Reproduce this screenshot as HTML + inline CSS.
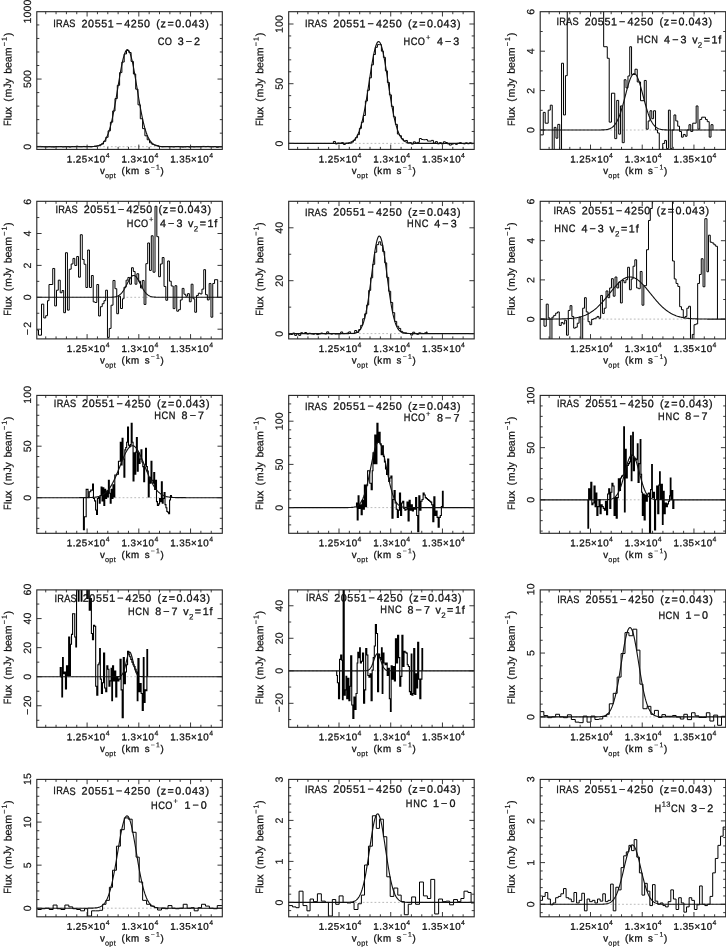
<!DOCTYPE html>
<html><head><meta charset="utf-8"><title>IRAS 20551-4250 spectra</title>
<style>
html,body{margin:0;padding:0;background:#fff}
body{width:726px;height:947px;overflow:hidden}
svg{display:block}
text{font-family:"Liberation Sans",sans-serif;fill:#111;white-space:pre;stroke:#111;stroke-width:0.3px}
g.r text{stroke-width:0.2px}
</style></head><body>
<svg width="726" height="947" viewBox="0 0 726 947">
<rect width="726" height="947" fill="#fff"/>
<g><clipPath id="c1"><rect x="36.8" y="11.7" width="185.5" height="137.7"/></clipPath>
<line x1="36.8" y1="146.7" x2="222.3" y2="146.7" stroke="#aaa" stroke-width="0.8" stroke-dasharray="1.8 2.1"/>
<path d="M36.8 146.44H39.1V146.41H41.4V146.69H43.7V146.86H46V146.92H48.3V146.69H50.6V146.91H52.9V146.99H55.2V146.66H57.5V146.67H59.8V146.59H62.1V146.89H64.4V146.7H66.7V146.71H69V147.01H71.3V146.59H73.6V146.63H75.9V146.22H78.2V146.66H80.5V146.73H82.8V146.45H85.1V146.65H87.4V146.49H89.7V146.72H92V146.52H94.3V146.18H96.6V145.87H98.9V145.24H101.2V144.09H103.5V141.31H105.8V137.27H108.1V130.84H110.4V122.17H112.7V110.94H115V98.55H117.3V85.31H119.6V72.6H121.9V62.05H124.2V53.95H126.5V50.5H128.8V52.52H131.1V61.4H133.4V74.03H135.7V89.18H138V104.84H140.3V118.76H142.6V128.63H144.9V135.8H147.2V139.78H149.5V142.77H151.8V144.26H154.1V145.01H156.4V145.66H158.7V146.6H161V146.81H163.3V146.64H165.6V146.53H167.9V146.66H170.2V146.64H172.5V146.9H174.8V146.58H177.1V146.47H179.4V146.79H181.7V146.99H184V146.85H186.3V146.55H188.6V147.05H190.9V146.72H193.2V146.9H195.5V146.73H197.8V146.75H200.1V146.7H202.4V146.4H204.7V146.61H207V146.43H209.3V146.73H211.6V146.8H213.9V146.62H216.2V147.28H218.5V146.71H220.8V146.67H222.3" fill="none" stroke="#000" stroke-width="1.0" stroke-linejoin="miter" clip-path="url(#c1)"/>
<path d="M36.8 146.7L37.55 146.7L38.3 146.7L39.05 146.7L39.8 146.7L40.55 146.7L41.3 146.7L42.05 146.7L42.8 146.7L43.55 146.7L44.3 146.7L45.05 146.7L45.8 146.7L46.55 146.7L47.3 146.7L48.05 146.7L48.8 146.7L49.55 146.7L50.3 146.7L51.05 146.7L51.8 146.7L52.55 146.7L53.3 146.7L54.05 146.7L54.8 146.7L55.55 146.7L56.3 146.7L57.05 146.7L57.8 146.7L58.55 146.7L59.3 146.7L60.05 146.7L60.8 146.7L61.55 146.7L62.3 146.7L63.05 146.7L63.8 146.7L64.55 146.7L65.3 146.7L66.05 146.7L66.8 146.7L67.55 146.7L68.3 146.7L69.05 146.7L69.8 146.7L70.55 146.7L71.3 146.7L72.05 146.7L72.8 146.7L73.55 146.7L74.3 146.7L75.05 146.7L75.8 146.7L76.55 146.7L77.3 146.7L78.05 146.7L78.8 146.7L79.55 146.7L80.3 146.7L81.05 146.7L81.8 146.7L82.55 146.7L83.3 146.7L84.05 146.7L84.8 146.69L85.55 146.69L86.3 146.69L87.05 146.69L87.8 146.68L88.55 146.67L89.3 146.66L90.05 146.65L90.8 146.63L91.55 146.61L92.3 146.58L93.05 146.54L93.8 146.49L94.55 146.42L95.3 146.34L96.05 146.23L96.8 146.1L97.55 145.93L98.3 145.72L99.05 145.46L99.8 145.14L100.55 144.76L101.3 144.29L102.05 143.73L102.8 143.06L103.55 142.27L104.3 141.34L105.05 140.25L105.8 138.98L106.55 137.53L107.3 135.86L108.05 133.98L108.8 131.85L109.55 129.48L110.3 126.85L111.05 123.95L111.8 120.79L112.55 117.38L113.3 113.71L114.05 109.81L114.8 105.7L115.55 101.42L116.3 96.98L117.05 92.45L117.8 87.86L118.55 83.27L119.3 78.74L120.05 74.33L120.8 70.11L121.55 66.13L122.3 62.46L123.05 59.15L123.8 56.28L124.55 53.87L125.3 51.98L126.05 50.64L126.8 49.88L127.55 49.7L128.3 50.12L129.05 51.11L129.8 52.67L130.55 54.77L131.3 57.37L132.05 60.43L132.8 63.88L133.55 67.69L134.3 71.77L135.05 76.08L135.8 80.54L136.55 85.1L137.3 89.7L138.05 94.27L138.8 98.77L139.55 103.15L140.3 107.37L141.05 111.4L141.8 115.21L142.55 118.77L143.3 122.09L144.05 125.14L144.8 127.93L145.55 130.46L146.3 132.73L147.05 134.76L147.8 136.55L148.55 138.13L149.3 139.51L150.05 140.7L150.8 141.73L151.55 142.6L152.3 143.34L153.05 143.97L153.8 144.49L154.55 144.92L155.3 145.28L156.05 145.57L156.8 145.81L157.55 146L158.3 146.15L159.05 146.28L159.8 146.37L160.55 146.45L161.3 146.51L162.05 146.56L162.8 146.59L163.55 146.62L164.3 146.64L165.05 146.66L165.8 146.67L166.55 146.68L167.3 146.68L168.05 146.69L168.8 146.69L169.55 146.69L170.3 146.7L171.05 146.7L171.8 146.7L172.55 146.7L173.3 146.7L174.05 146.7L174.8 146.7L175.55 146.7L176.3 146.7L177.05 146.7L177.8 146.7L178.55 146.7L179.3 146.7L180.05 146.7L180.8 146.7L181.55 146.7L182.3 146.7L183.05 146.7L183.8 146.7L184.55 146.7L185.3 146.7L186.05 146.7L186.8 146.7L187.55 146.7L188.3 146.7L189.05 146.7L189.8 146.7L190.55 146.7L191.3 146.7L192.05 146.7L192.8 146.7L193.55 146.7L194.3 146.7L195.05 146.7L195.8 146.7L196.55 146.7L197.3 146.7L198.05 146.7L198.8 146.7L199.55 146.7L200.3 146.7L201.05 146.7L201.8 146.7L202.55 146.7L203.3 146.7L204.05 146.7L204.8 146.7L205.55 146.7L206.3 146.7L207.05 146.7L207.8 146.7L208.55 146.7L209.3 146.7L210.05 146.7L210.8 146.7L211.55 146.7L212.3 146.7L213.05 146.7L213.8 146.7L214.55 146.7L215.3 146.7L216.05 146.7L216.8 146.7L217.55 146.7L218.3 146.7L219.05 146.7L219.8 146.7L220.55 146.7L221.3 146.7L222.05 146.7" fill="none" stroke="#111" stroke-width="1.12" clip-path="url(#c1)"/>
<rect x="36.8" y="11.7" width="185.5" height="137.7" fill="none" stroke="#222" stroke-width="1.1"/>
<path d="M45.72 149.4v-2.5M45.72 11.7v2.5M56.06 149.4v-2.5M56.06 11.7v2.5M66.41 149.4v-2.5M66.41 11.7v2.5M76.75 149.4v-2.5M76.75 11.7v2.5M87.1 149.4v-4.8M87.1 11.7v4.8M97.44 149.4v-2.5M97.44 11.7v2.5M107.79 149.4v-2.5M107.79 11.7v2.5M118.13 149.4v-2.5M118.13 11.7v2.5M128.48 149.4v-2.5M128.48 11.7v2.5M138.82 149.4v-4.8M138.82 11.7v4.8M149.17 149.4v-2.5M149.17 11.7v2.5M159.51 149.4v-2.5M159.51 11.7v2.5M169.86 149.4v-2.5M169.86 11.7v2.5M180.2 149.4v-2.5M180.2 11.7v2.5M190.55 149.4v-4.8M190.55 11.7v4.8M200.89 149.4v-2.5M200.89 11.7v2.5M211.24 149.4v-2.5M211.24 11.7v2.5M36.8 146.7h4.8M222.3 146.7h-4.8M36.8 133.17h2.5M222.3 133.17h-2.5M36.8 119.64h2.5M222.3 119.64h-2.5M36.8 106.11h2.5M222.3 106.11h-2.5M36.8 92.58h2.5M222.3 92.58h-2.5M36.8 79.05h4.8M222.3 79.05h-4.8M36.8 65.52h2.5M222.3 65.52h-2.5M36.8 51.99h2.5M222.3 51.99h-2.5M36.8 38.46h2.5M222.3 38.46h-2.5M36.8 24.93h2.5M222.3 24.93h-2.5" stroke="#222" stroke-width="0.9" fill="none"/>
<g class="r" transform="rotate(-90 30.9 146.7)"><text transform="rotate(0.03 27.81 146.7)" x="27.88" y="146.7" font-size="10.5">0</text></g>
<g class="r" transform="rotate(-90 30.9 79.05)"><text transform="rotate(0.03 21.83 79.05)" x="21.9 27.88 33.86" y="79.05" font-size="10.5">500</text></g>
<g class="r" transform="rotate(-90 30.9 11.4)"><text transform="rotate(0.03 18.84 11.4)" x="18.91 24.89 30.87 36.85" y="11.4" font-size="10.5">1000</text></g>
<text transform="rotate(0.03 66.49 162.4)" x="66.76 72.63 75.79 81.76 87.67 93.84 99.82" y="162.4" font-size="9.78">1.25×10</text><text transform="rotate(0.03 66.49 162.4)" x="105.72" y="157.66" font-size="6.85" style="stroke-width:0.18px">4</text>
<text transform="rotate(0.03 121.2 162.4)" x="121.47 127.35 130.5 136.4 142.58 148.56" y="162.4" font-size="9.78">1.3×10</text><text transform="rotate(0.03 121.2 162.4)" x="154.45" y="157.66" font-size="6.85" style="stroke-width:0.18px">4</text>
<text transform="rotate(0.03 169.94 162.4)" x="170.21 176.08 179.24 185.21 191.12 197.29 203.27" y="162.4" font-size="9.78">1.35×10</text><text transform="rotate(0.03 169.94 162.4)" x="209.17" y="157.66" font-size="6.85" style="stroke-width:0.18px">4</text>
<text transform="rotate(0.03 99.97 174.1)" x="99.97" y="174.1" font-size="9.78">v</text><text transform="rotate(0.03 99.97 174.1)" x="104.99 109.28 113.78" y="178.07" font-size="7.24" style="stroke-width:0.18px">opt</text><text transform="rotate(0.03 99.97 174.1)" x="117.22 121.53 125.43 130.98 140.71 144.65" y="174.1" font-size="9.78"> (km s</text><text transform="rotate(0.03 99.97 174.1)" x="150.79 156.07" y="169.36" font-size="6.85" style="stroke-width:0.18px">−1</text><text transform="rotate(0.03 99.97 174.1)" x="160.57" y="174.1" font-size="9.78">)</text>
<g class="r" transform="rotate(-90 11.4 79.25)"><text transform="rotate(0.03 -35.42 79.25) scale(0.86 1)" x="-41.2" y="79.25" font-size="10.6">F</text><text transform="rotate(0.03 -35.42 79.25)" x="-29.82 -27.43 -21.59 -15.33 -11 -6.88" y="79.25" font-size="10.6">lux (m</text><text transform="rotate(0.03 -35.42 79.25) scale(0.86 1)" x="2.72" y="79.25" font-size="10.6">J</text><text transform="rotate(0.03 -35.42 79.25)" x="6.9 13 16.92 22.62 28.31 34.39" y="79.25" font-size="10.6">y beam</text><text transform="rotate(0.03 -35.42 79.25)" x="44.39 49.73" y="74.46" font-size="7.42" style="stroke-width:0.18px">−1</text><text transform="rotate(0.03 -35.42 79.25)" x="54.3" y="79.25" font-size="10.6">)</text></g>
<text transform="rotate(0.03 53.15 27.3) scale(0.86 1)" x="61.88 65.18 73.12 80.56" y="27.3" font-size="10.72">IRAS</text><text transform="rotate(0.03 53.15 27.3)" x="76.94 81.44 88.05 94.66 101.26 107.87 115.9 124.24 130.85 137.45 144.06 151.55 156.31 160.64 167.43 175.27 181.74 185.24 191.85 198.45 205.31" y="27.3" font-size="10.72"> 20551−4250 (z=0.043)</text>
<text transform="rotate(0.03 157.5 45.1) scale(0.86 1)" x="183.38 191.51" y="45.1" font-size="10.72">CO</text><text transform="rotate(0.03 157.5 45.1)" x="173.2 177.7 185.74 194.08" y="45.1" font-size="10.72"> 3−2</text></g>
<g><clipPath id="c2"><rect x="288.7" y="11.7" width="185.5" height="137.7"/></clipPath>
<line x1="288.7" y1="143.4" x2="474.2" y2="143.4" stroke="#aaa" stroke-width="0.8" stroke-dasharray="1.8 2.1"/>
<path d="M333.4 143.4V141.44H335.4V143.95H337.4V143.06H339.4V143.25H341.4V142.64H343.4V144.44H345.4V143.47H347.4V143.47H349.4V143.23H351.4V142.13H353.4V140.34H355.4V137.75H357.4V134.66H359.4V128.38H361.4V122.2H363.4V115.47H365.4V101.03H367.4V90.23H369.4V77.84H371.4V64.85H373.4V54.54H375.4V47.32H377.4V44.61H379.4V44.62H381.4V51.17H383.4V57.37H385.4V70.85H387.4V82.47H389.4V94.86H391.4V106.35H393.4V116.81H395.4V124.36H397.4V134.04H399.4V135.69H401.4V138.79H403.4V140.98H405.4V140.48H407.4V143.16H409.4V142.58H411.4V144.1H413.4V141.85H415.4V142.97H417.4V142.38H419.4V138.53H421.4V139.46H423.4V139.77H425.4V139.55H427.4V141.07H429.4V141.11H431.4V140.38H433.4V143.1H435.4V141.64H437.4V143.83H439.4V142.65H441.4V143.98H443.4V141.75H445.4V142.5H447.4V143.87H449.4V145.08H451.4V144.16H453.4V143.55H455.4V144.35H457.4V143.27H459.4V142.67H461.4V143.56H463.4V143.88H465.4V142.85H467.4V143.76H469.4V142.79H471.4V143.78H472.5V143.4" fill="none" stroke="#000" stroke-width="1.0" stroke-linejoin="miter" clip-path="url(#c2)"/>
<path d="M288.7 143.4L289.45 143.4L290.2 143.4L290.95 143.4L291.7 143.4L292.45 143.4L293.2 143.4L293.95 143.4L294.7 143.4L295.45 143.4L296.2 143.4L296.95 143.4L297.7 143.4L298.45 143.4L299.2 143.4L299.95 143.4L300.7 143.4L301.45 143.4L302.2 143.4L302.95 143.4L303.7 143.4L304.45 143.4L305.2 143.4L305.95 143.4L306.7 143.4L307.45 143.4L308.2 143.4L308.95 143.4L309.7 143.4L310.45 143.4L311.2 143.4L311.95 143.4L312.7 143.4L313.45 143.4L314.2 143.4L314.95 143.4L315.7 143.4L316.45 143.4L317.2 143.4L317.95 143.4L318.7 143.4L319.45 143.4L320.2 143.4L320.95 143.4L321.7 143.4L322.45 143.4L323.2 143.4L323.95 143.4L324.7 143.4L325.45 143.4L326.2 143.4L326.95 143.4L327.7 143.4L328.45 143.4L329.2 143.4L329.95 143.4L330.7 143.4L331.45 143.4L332.2 143.4L332.95 143.4L333.7 143.4L334.45 143.4L335.2 143.4L335.95 143.4L336.7 143.4L337.45 143.39L338.2 143.39L338.95 143.39L339.7 143.38L340.45 143.37L341.2 143.36L341.95 143.35L342.7 143.33L343.45 143.31L344.2 143.27L344.95 143.23L345.7 143.18L346.45 143.11L347.2 143.02L347.95 142.9L348.7 142.75L349.45 142.57L350.2 142.34L350.95 142.05L351.7 141.7L352.45 141.27L353.2 140.75L353.95 140.13L354.7 139.38L355.45 138.49L356.2 137.45L356.95 136.22L357.7 134.8L358.45 133.16L359.2 131.29L359.95 129.17L360.7 126.78L361.45 124.12L362.2 121.17L362.95 117.93L363.7 114.4L364.45 110.6L365.2 106.53L365.95 102.22L366.7 97.7L367.45 93L368.2 88.17L368.95 83.27L369.7 78.34L370.45 73.46L371.2 68.69L371.95 64.1L372.7 59.76L373.45 55.75L374.2 52.12L374.95 48.95L375.7 46.29L376.45 44.18L377.2 42.68L377.95 41.8L378.7 41.56L379.45 41.97L380.2 43.02L380.95 44.69L381.7 46.94L382.45 49.75L383.2 53.05L383.95 56.78L384.7 60.89L385.45 65.3L386.2 69.95L386.95 74.76L387.7 79.66L388.45 84.58L389.2 89.47L389.95 94.27L390.7 98.92L391.45 103.39L392.2 107.64L392.95 111.64L393.7 115.37L394.45 118.82L395.2 121.98L395.95 124.86L396.7 127.45L397.45 129.76L398.2 131.82L398.95 133.62L399.7 135.2L400.45 136.57L401.2 137.74L401.95 138.74L402.7 139.59L403.45 140.31L404.2 140.9L404.95 141.4L405.7 141.8L406.45 142.14L407.2 142.41L407.95 142.62L408.7 142.8L409.45 142.93L410.2 143.04L410.95 143.13L411.7 143.19L412.45 143.24L413.2 143.28L413.95 143.31L414.7 143.34L415.45 143.35L416.2 143.37L416.95 143.38L417.7 143.38L418.45 143.39L419.2 143.39L419.95 143.39L420.7 143.4L421.45 143.4L422.2 143.4L422.95 143.4L423.7 143.4L424.45 143.4L425.2 143.4L425.95 143.4L426.7 143.4L427.45 143.4L428.2 143.4L428.95 143.4L429.7 143.4L430.45 143.4L431.2 143.4L431.95 143.4L432.7 143.4L433.45 143.4L434.2 143.4L434.95 143.4L435.7 143.4L436.45 143.4L437.2 143.4L437.95 143.4L438.7 143.4L439.45 143.4L440.2 143.4L440.95 143.4L441.7 143.4L442.45 143.4L443.2 143.4L443.95 143.4L444.7 143.4L445.45 143.4L446.2 143.4L446.95 143.4L447.7 143.4L448.45 143.4L449.2 143.4L449.95 143.4L450.7 143.4L451.45 143.4L452.2 143.4L452.95 143.4L453.7 143.4L454.45 143.4L455.2 143.4L455.95 143.4L456.7 143.4L457.45 143.4L458.2 143.4L458.95 143.4L459.7 143.4L460.45 143.4L461.2 143.4L461.95 143.4L462.7 143.4L463.45 143.4L464.2 143.4L464.95 143.4L465.7 143.4L466.45 143.4L467.2 143.4L467.95 143.4L468.7 143.4L469.45 143.4L470.2 143.4L470.95 143.4L471.7 143.4L472.45 143.4L473.2 143.4L473.95 143.4" fill="none" stroke="#111" stroke-width="1.12" clip-path="url(#c2)"/>
<rect x="288.7" y="11.7" width="185.5" height="137.7" fill="none" stroke="#222" stroke-width="1.1"/>
<path d="M297.62 149.4v-2.5M297.62 11.7v2.5M307.96 149.4v-2.5M307.96 11.7v2.5M318.31 149.4v-2.5M318.31 11.7v2.5M328.65 149.4v-2.5M328.65 11.7v2.5M339 149.4v-4.8M339 11.7v4.8M349.35 149.4v-2.5M349.35 11.7v2.5M359.69 149.4v-2.5M359.69 11.7v2.5M370.04 149.4v-2.5M370.04 11.7v2.5M380.38 149.4v-2.5M380.38 11.7v2.5M390.73 149.4v-4.8M390.73 11.7v4.8M401.07 149.4v-2.5M401.07 11.7v2.5M411.42 149.4v-2.5M411.42 11.7v2.5M421.76 149.4v-2.5M421.76 11.7v2.5M432.11 149.4v-2.5M432.11 11.7v2.5M442.45 149.4v-4.8M442.45 11.7v4.8M452.8 149.4v-2.5M452.8 11.7v2.5M463.14 149.4v-2.5M463.14 11.7v2.5M288.7 143.4h4.8M474.2 143.4h-4.8M288.7 131.46h2.5M474.2 131.46h-2.5M288.7 119.52h2.5M474.2 119.52h-2.5M288.7 107.58h2.5M474.2 107.58h-2.5M288.7 95.64h2.5M474.2 95.64h-2.5M288.7 83.7h4.8M474.2 83.7h-4.8M288.7 71.76h2.5M474.2 71.76h-2.5M288.7 59.82h2.5M474.2 59.82h-2.5M288.7 47.88h2.5M474.2 47.88h-2.5M288.7 35.94h2.5M474.2 35.94h-2.5M288.7 24h4.8M474.2 24h-4.8" stroke="#222" stroke-width="0.9" fill="none"/>
<g class="r" transform="rotate(-90 282.8 143.4)"><text transform="rotate(0.03 279.71 143.4)" x="279.78" y="143.4" font-size="10.5">0</text></g>
<g class="r" transform="rotate(-90 282.8 83.7)"><text transform="rotate(0.03 276.72 83.7)" x="276.79 282.77" y="83.7" font-size="10.5">50</text></g>
<g class="r" transform="rotate(-90 282.8 24)"><text transform="rotate(0.03 273.73 24)" x="273.8 279.78 285.76" y="24" font-size="10.5">100</text></g>
<text transform="rotate(0.03 318.39 162.4)" x="318.66 324.53 327.69 333.66 339.57 345.74 351.72" y="162.4" font-size="9.78">1.25×10</text><text transform="rotate(0.03 318.39 162.4)" x="357.62" y="157.66" font-size="6.85" style="stroke-width:0.18px">4</text>
<text transform="rotate(0.03 373.1 162.4)" x="373.37 379.25 382.4 388.3 394.48 400.46" y="162.4" font-size="9.78">1.3×10</text><text transform="rotate(0.03 373.1 162.4)" x="406.35" y="157.66" font-size="6.85" style="stroke-width:0.18px">4</text>
<text transform="rotate(0.03 421.84 162.4)" x="422.11 427.98 431.14 437.11 443.02 449.19 455.17" y="162.4" font-size="9.78">1.35×10</text><text transform="rotate(0.03 421.84 162.4)" x="461.07" y="157.66" font-size="6.85" style="stroke-width:0.18px">4</text>
<text transform="rotate(0.03 351.87 174.1)" x="351.87" y="174.1" font-size="9.78">v</text><text transform="rotate(0.03 351.87 174.1)" x="356.89 361.18 365.68" y="178.07" font-size="7.24" style="stroke-width:0.18px">opt</text><text transform="rotate(0.03 351.87 174.1)" x="369.12 373.43 377.33 382.88 392.61 396.55" y="174.1" font-size="9.78"> (km s</text><text transform="rotate(0.03 351.87 174.1)" x="402.69 407.97" y="169.36" font-size="6.85" style="stroke-width:0.18px">−1</text><text transform="rotate(0.03 351.87 174.1)" x="412.47" y="174.1" font-size="9.78">)</text>
<g class="r" transform="rotate(-90 263.3 79.25)"><text transform="rotate(0.03 216.48 79.25) scale(0.86 1)" x="251.71" y="79.25" font-size="10.6">F</text><text transform="rotate(0.03 216.48 79.25)" x="222.08 224.47 230.31 236.57 240.9 245.02" y="79.25" font-size="10.6">lux (m</text><text transform="rotate(0.03 216.48 79.25) scale(0.86 1)" x="295.63" y="79.25" font-size="10.6">J</text><text transform="rotate(0.03 216.48 79.25)" x="258.8 264.9 268.82 274.52 280.21 286.29" y="79.25" font-size="10.6">y beam</text><text transform="rotate(0.03 216.48 79.25)" x="296.29 301.63" y="74.46" font-size="7.42" style="stroke-width:0.18px">−1</text><text transform="rotate(0.03 216.48 79.25)" x="306.2" y="79.25" font-size="10.6">)</text></g>
<text transform="rotate(0.03 304.85 27.3) scale(0.86 1)" x="354.56 357.86 365.79 373.24" y="27.3" font-size="10.72">IRAS</text><text transform="rotate(0.03 304.85 27.3)" x="328.64 333.14 339.75 346.36 352.96 359.57 367.6 375.94 382.55 389.15 395.76 403.25 408.01 412.34 419.13 426.97 433.44 436.94 443.55 450.15 457.01" y="27.3" font-size="10.72"> 20551−4250 (z=0.043)</text>
<text transform="rotate(0.03 403.2 45.1) scale(0.86 1)" x="469.28 477.7 485.83" y="45.1" font-size="10.72">HCO</text><text transform="rotate(0.03 403.2 45.1)" x="425.98" y="39.86" font-size="7.51" style="stroke-width:0.18px">+</text><text transform="rotate(0.03 403.2 45.1)" x="432.44 436.95 444.99 453.33" y="45.1" font-size="10.72"> 4−3</text></g>
<g><clipPath id="c3"><rect x="540.2" y="11.7" width="185.5" height="137.7"/></clipPath>
<line x1="540.2" y1="130" x2="725.7" y2="130" stroke="#aaa" stroke-width="0.8" stroke-dasharray="1.8 2.1"/>
<path d="M540.25 134.89H543.25V112.4H545.2V123.19H548.19V110.15H550.29V105.2H552.24V152.4H554.19V127.39H555.99V138.19H557.79V124.39H559.74V152.4H561.54V63.22H563.49V114.95H565.44V75.67H567.24V8.7H603.67V46.73H607.27V58.28H609.21V122.14H611.46V93.21H614.76V138.64H616.71V100.4H618.66V134.14H620.46V105.95H622.26V142.68H624.21V79.72H626.01V87.96H627.96V75.97H629.75V46.73H631.55V74.47H635V69.22H637.24V81.96H640.54V100.7H644.29V80.46H646.24V129.19H648.19V120.94H649.99V110.75H651.79V118.7H653.59V110.75H655.54V129.94H657.48V132.94H659.28V152.4H662.73V143.43H664.68V140.43H666.48V148.68H668.43V110.15H670.23V148.68H672.18V129.94H673.98V114.95H675.78V120.94H677.72V126.19H679.52V131.44H681.47V137.14H683.27V134.44H685.22V136.24H687.02V129.94H688.97V124.69H690.77V131.44H692.72V123.19H696.16V105.95H697.96V129.19H699.76V119.45H701.71V117.2H705.46V119.45H707.26V121.69H709.21V137.14H711.01V124.69H712.96V130" fill="none" stroke="#000" stroke-width="1.0" stroke-linejoin="miter" clip-path="url(#c3)"/>
<path d="M540.2 130L540.95 130L541.7 130L542.45 130L543.2 130L543.95 130L544.7 130L545.45 130L546.2 130L546.95 130L547.7 130L548.45 130L549.2 130L549.95 130L550.7 130L551.45 130L552.2 130L552.95 130L553.7 130L554.45 130L555.2 130L555.95 130L556.7 130L557.45 130L558.2 130L558.95 130L559.7 130L560.45 130L561.2 130L561.95 130L562.7 130L563.45 130L564.2 130L564.95 130L565.7 130L566.45 130L567.2 130L567.95 130L568.7 130L569.45 130L570.2 130L570.95 130L571.7 130L572.45 130L573.2 130L573.95 130L574.7 130L575.45 130L576.2 130L576.95 130L577.7 130L578.45 130L579.2 130L579.95 130L580.7 130L581.45 130L582.2 130L582.95 130L583.7 130L584.45 130L585.2 130L585.95 130L586.7 130L587.45 130L588.2 130L588.95 130L589.7 130L590.45 130L591.2 130L591.95 130L592.7 130L593.45 130L594.2 130L594.95 130L595.7 130L596.45 129.99L597.2 129.99L597.95 129.99L598.7 129.98L599.45 129.97L600.2 129.96L600.95 129.95L601.7 129.93L602.45 129.9L603.2 129.87L603.95 129.83L604.7 129.77L605.45 129.69L606.2 129.6L606.95 129.48L607.7 129.33L608.45 129.14L609.2 128.91L609.95 128.62L610.7 128.27L611.45 127.85L612.2 127.35L612.95 126.74L613.7 126.03L614.45 125.2L615.2 124.23L615.95 123.12L616.7 121.85L617.45 120.41L618.2 118.8L618.95 117.02L619.7 115.06L620.45 112.92L621.2 110.61L621.95 108.15L622.7 105.55L623.45 102.83L624.2 100.03L624.95 97.17L625.7 94.29L626.45 91.44L627.2 88.65L627.95 85.97L628.7 83.45L629.45 81.14L630.2 79.07L630.95 77.29L631.7 75.84L632.45 74.74L633.2 74.01L633.95 73.68L634.7 73.75L635.45 74.21L636.2 75.06L636.95 76.28L637.7 77.85L638.45 79.73L639.2 81.88L639.95 84.27L640.7 86.85L641.45 89.57L642.2 92.38L642.95 95.25L643.7 98.13L644.45 100.97L645.2 103.75L645.95 106.43L646.7 108.99L647.45 111.4L648.2 113.65L648.95 115.73L649.7 117.63L650.45 119.36L651.2 120.91L651.95 122.29L652.7 123.5L653.45 124.57L654.2 125.49L654.95 126.28L655.7 126.95L656.45 127.52L657.2 128L657.95 128.4L658.7 128.73L659.45 128.99L660.2 129.21L660.95 129.38L661.7 129.52L662.45 129.63L663.2 129.72L663.95 129.79L664.7 129.84L665.45 129.88L666.2 129.91L666.95 129.94L667.7 129.95L668.45 129.97L669.2 129.98L669.95 129.98L670.7 129.99L671.45 129.99L672.2 129.99L672.95 130L673.7 130L674.45 130L675.2 130L675.95 130L676.7 130L677.45 130L678.2 130L678.95 130L679.7 130L680.45 130L681.2 130L681.95 130L682.7 130L683.45 130L684.2 130L684.95 130L685.7 130L686.45 130L687.2 130L687.95 130L688.7 130L689.45 130L690.2 130L690.95 130L691.7 130L692.45 130L693.2 130L693.95 130L694.7 130L695.45 130L696.2 130L696.95 130L697.7 130L698.45 130L699.2 130L699.95 130L700.7 130L701.45 130L702.2 130L702.95 130L703.7 130L704.45 130L705.2 130L705.95 130L706.7 130L707.45 130L708.2 130L708.95 130L709.7 130L710.45 130L711.2 130L711.95 130L712.7 130L713.45 130L714.2 130L714.95 130L715.7 130L716.45 130L717.2 130L717.95 130L718.7 130L719.45 130L720.2 130L720.95 130L721.7 130L722.45 130L723.2 130L723.95 130L724.7 130L725.45 130" fill="none" stroke="#111" stroke-width="1.12" clip-path="url(#c3)"/>
<rect x="540.2" y="11.7" width="185.5" height="137.7" fill="none" stroke="#222" stroke-width="1.1"/>
<path d="M549.12 149.4v-2.5M549.12 11.7v2.5M559.47 149.4v-2.5M559.47 11.7v2.5M569.81 149.4v-2.5M569.81 11.7v2.5M580.15 149.4v-2.5M580.15 11.7v2.5M590.5 149.4v-4.8M590.5 11.7v4.8M600.85 149.4v-2.5M600.85 11.7v2.5M611.19 149.4v-2.5M611.19 11.7v2.5M621.53 149.4v-2.5M621.53 11.7v2.5M631.88 149.4v-2.5M631.88 11.7v2.5M642.23 149.4v-4.8M642.23 11.7v4.8M652.57 149.4v-2.5M652.57 11.7v2.5M662.91 149.4v-2.5M662.91 11.7v2.5M673.26 149.4v-2.5M673.26 11.7v2.5M683.61 149.4v-2.5M683.61 11.7v2.5M693.95 149.4v-4.8M693.95 11.7v4.8M704.29 149.4v-2.5M704.29 11.7v2.5M714.64 149.4v-2.5M714.64 11.7v2.5M540.2 130h4.8M725.7 130h-4.8M540.2 110.3h2.5M725.7 110.3h-2.5M540.2 90.6h4.8M725.7 90.6h-4.8M540.2 70.9h2.5M725.7 70.9h-2.5M540.2 51.2h4.8M725.7 51.2h-4.8M540.2 31.5h2.5M725.7 31.5h-2.5" stroke="#222" stroke-width="0.9" fill="none"/>
<g class="r" transform="rotate(-90 534.3 130)"><text transform="rotate(0.03 531.21 130)" x="531.28" y="130" font-size="10.5">0</text></g>
<g class="r" transform="rotate(-90 534.3 90.6)"><text transform="rotate(0.03 531.21 90.6)" x="531.28" y="90.6" font-size="10.5">2</text></g>
<g class="r" transform="rotate(-90 534.3 51.2)"><text transform="rotate(0.03 531.21 51.2)" x="531.28" y="51.2" font-size="10.5">4</text></g>
<g class="r" transform="rotate(-90 534.3 11.8)"><text transform="rotate(0.03 531.21 11.8)" x="531.28" y="11.8" font-size="10.5">6</text></g>
<text transform="rotate(0.03 569.89 162.4)" x="570.16 576.03 579.19 585.16 591.07 597.24 603.22" y="162.4" font-size="9.78">1.25×10</text><text transform="rotate(0.03 569.89 162.4)" x="609.12" y="157.66" font-size="6.85" style="stroke-width:0.18px">4</text>
<text transform="rotate(0.03 624.6 162.4)" x="624.87 630.75 633.9 639.8 645.98 651.96" y="162.4" font-size="9.78">1.3×10</text><text transform="rotate(0.03 624.6 162.4)" x="657.85" y="157.66" font-size="6.85" style="stroke-width:0.18px">4</text>
<text transform="rotate(0.03 673.34 162.4)" x="673.61 679.48 682.64 688.61 694.52 700.69 706.67" y="162.4" font-size="9.78">1.35×10</text><text transform="rotate(0.03 673.34 162.4)" x="712.57" y="157.66" font-size="6.85" style="stroke-width:0.18px">4</text>
<text transform="rotate(0.03 603.37 174.1)" x="603.37" y="174.1" font-size="9.78">v</text><text transform="rotate(0.03 603.37 174.1)" x="608.39 612.68 617.18" y="178.07" font-size="7.24" style="stroke-width:0.18px">opt</text><text transform="rotate(0.03 603.37 174.1)" x="620.62 624.93 628.83 634.38 644.11 648.05" y="174.1" font-size="9.78"> (km s</text><text transform="rotate(0.03 603.37 174.1)" x="654.19 659.47" y="169.36" font-size="6.85" style="stroke-width:0.18px">−1</text><text transform="rotate(0.03 603.37 174.1)" x="663.97" y="174.1" font-size="9.78">)</text>
<g class="r" transform="rotate(-90 514.8 79.25)"><text transform="rotate(0.03 467.98 79.25) scale(0.86 1)" x="544.15" y="79.25" font-size="10.6">F</text><text transform="rotate(0.03 467.98 79.25)" x="473.58 475.97 481.81 488.07 492.4 496.52" y="79.25" font-size="10.6">lux (m</text><text transform="rotate(0.03 467.98 79.25) scale(0.86 1)" x="588.07" y="79.25" font-size="10.6">J</text><text transform="rotate(0.03 467.98 79.25)" x="510.3 516.4 520.32 526.02 531.71 537.79" y="79.25" font-size="10.6">y beam</text><text transform="rotate(0.03 467.98 79.25)" x="547.79 553.13" y="74.46" font-size="7.42" style="stroke-width:0.18px">−1</text><text transform="rotate(0.03 467.98 79.25)" x="557.7" y="79.25" font-size="10.6">)</text></g>
<text transform="rotate(0.03 556.35 25.3) scale(0.86 1)" x="647 650.3 658.24 665.68" y="25.3" font-size="10.72">IRAS</text><text transform="rotate(0.03 556.35 25.3)" x="580.14 584.64 591.25 597.86 604.46 611.07 619.1 627.44 634.05 640.65 647.26 654.75 659.51 663.84 670.63 678.47 684.94 688.44 695.05 701.65 708.51" y="25.3" font-size="10.72"> 20551−4250 (z=0.043)</text>
<text transform="rotate(0.03 636.5 43.3) scale(0.86 1)" x="740.56 748.98 757.41" y="43.3" font-size="10.72">HCN</text><text transform="rotate(0.03 636.5 43.3)" x="659.61 664.12 672.16 680.5" y="43.3" font-size="10.72"> 4−3</text><text transform="rotate(0.03 636.5 43.3)" x="687.99 692.19" y="43.3" font-size="10.72"> v</text><text transform="rotate(0.03 636.5 43.3)" x="697.8" y="47.69" font-size="7.93" style="stroke-width:0.18px">2</text><text transform="rotate(0.03 636.5 43.3)" x="703.7 711.54 718.34" y="43.3" font-size="10.72">=1f</text></g>
<g><clipPath id="c4"><rect x="36.8" y="201.3" width="185.5" height="137.6"/></clipPath>
<line x1="36.8" y1="297.3" x2="222.3" y2="297.3" stroke="#aaa" stroke-width="0.8" stroke-dasharray="1.8 2.1"/>
<path d="M36.7 329.93H38.5V335.18H41.5V304.15H43.75V317.94H45.69V315.69H47.49V300.7H48.99V284.51H52.74V268.46H54.69V305.95H56.49V290.2H58.29V280.16H60.24V292.75H62.04V290.5H63.69V312.69H65.48V252.72H67.43V310.14H69.23V269.21H71.18V263.97H72.98V258.42H74.78V265.47H76.73V256.47H78.53V277.16H80.33V234.73H82.28V259.47H84.07V264.27H85.87V287.51H87.67V250.02H89.47V287.51H91.42V275.51H93.22V301.9H95.02V302.5H96.82V284.51H98.62V315.99H100.42V306.7H102.22V303.7H104.01V300.7H105.66V290.2H107.46V337.43H109.26V328.43H111.06V305.2H113.01V280.46H114.96V288.7H116.76V313.74H118.56V296.2H120.51V308.49H122.46V298.75H124V287.21H126.1V280.16H127.9V277.46H129.7V284.21H131.5V267.72H133.3V271.46H135.09V284.21H136.89V273.71H138.69V281.21H140.49V287.96H142.29V280.46H144.09V304.45H145.89V263.67H147.69V242.98H149.49V270.41H151.29V235.78H153.09V272.21H155.03V206.25H156.83V236.68H158.63V276.71H160.43V263.97H162.23V257.52H164.03V286.46H165.83V300.25H167.63V260.97H169.43V281.21H171.23V286.01H173.18V308.64H174.97V285.71H176.77V311.19H178.57V309.69H180.37V299.95H182.17V288.4H183.97V294.25H185.77V296.2H187.57V293.65H189.37V301.75H191.17V284.21H192.97V298.75H194.76V312.24H196.56V295.45H198.36V293.2H200.16V293.95H201.96V289.15H203.76V269.66H205.56V294.7H207.36V299.95H209.16V283.46H210.96V317.19H212.76V283.46H214.55V279.71H217.7V297.3" fill="none" stroke="#000" stroke-width="1.0" stroke-linejoin="miter" clip-path="url(#c4)"/>
<path d="M36.8 297.3L37.55 297.3L38.3 297.3L39.05 297.3L39.8 297.3L40.55 297.3L41.3 297.3L42.05 297.3L42.8 297.3L43.55 297.3L44.3 297.3L45.05 297.3L45.8 297.3L46.55 297.3L47.3 297.3L48.05 297.3L48.8 297.3L49.55 297.3L50.3 297.3L51.05 297.3L51.8 297.3L52.55 297.3L53.3 297.3L54.05 297.3L54.8 297.3L55.55 297.3L56.3 297.3L57.05 297.3L57.8 297.3L58.55 297.3L59.3 297.3L60.05 297.3L60.8 297.3L61.55 297.3L62.3 297.3L63.05 297.3L63.8 297.3L64.55 297.3L65.3 297.3L66.05 297.3L66.8 297.3L67.55 297.3L68.3 297.3L69.05 297.3L69.8 297.3L70.55 297.3L71.3 297.3L72.05 297.3L72.8 297.3L73.55 297.3L74.3 297.3L75.05 297.3L75.8 297.3L76.55 297.3L77.3 297.3L78.05 297.3L78.8 297.3L79.55 297.3L80.3 297.3L81.05 297.3L81.8 297.3L82.55 297.3L83.3 297.3L84.05 297.3L84.8 297.3L85.55 297.3L86.3 297.3L87.05 297.3L87.8 297.3L88.55 297.3L89.3 297.3L90.05 297.3L90.8 297.3L91.55 297.3L92.3 297.3L93.05 297.3L93.8 297.3L94.55 297.3L95.3 297.3L96.05 297.3L96.8 297.3L97.55 297.3L98.3 297.3L99.05 297.3L99.8 297.3L100.55 297.3L101.3 297.3L102.05 297.3L102.8 297.3L103.55 297.3L104.3 297.3L105.05 297.3L105.8 297.3L106.55 297.29L107.3 297.29L108.05 297.29L108.8 297.28L109.55 297.27L110.3 297.25L111.05 297.23L111.8 297.2L112.55 297.15L113.3 297.09L114.05 297L114.8 296.89L115.55 296.74L116.3 296.55L117.05 296.3L117.8 295.99L118.55 295.6L119.3 295.13L120.05 294.56L120.8 293.88L121.55 293.08L122.3 292.16L123.05 291.12L123.8 289.97L124.55 288.7L125.3 287.34L126.05 285.91L126.8 284.44L127.55 282.96L128.3 281.51L129.05 280.13L129.8 278.85L130.55 277.73L131.3 276.81L132.05 276.1L132.8 275.64L133.55 275.45L134.3 275.54L135.05 275.89L135.8 276.5L136.55 277.34L137.3 278.39L138.05 279.6L138.8 280.94L139.55 282.37L140.3 283.85L141.05 285.33L141.8 286.78L142.55 288.17L143.3 289.47L144.05 290.67L144.8 291.76L145.55 292.73L146.3 293.57L147.05 294.3L147.8 294.91L148.55 295.43L149.3 295.85L150.05 296.19L150.8 296.46L151.55 296.67L152.3 296.84L153.05 296.96L153.8 297.06L154.55 297.13L155.3 297.18L156.05 297.22L156.8 297.24L157.55 297.26L158.3 297.27L159.05 297.28L159.8 297.29L160.55 297.29L161.3 297.3L162.05 297.3L162.8 297.3L163.55 297.3L164.3 297.3L165.05 297.3L165.8 297.3L166.55 297.3L167.3 297.3L168.05 297.3L168.8 297.3L169.55 297.3L170.3 297.3L171.05 297.3L171.8 297.3L172.55 297.3L173.3 297.3L174.05 297.3L174.8 297.3L175.55 297.3L176.3 297.3L177.05 297.3L177.8 297.3L178.55 297.3L179.3 297.3L180.05 297.3L180.8 297.3L181.55 297.3L182.3 297.3L183.05 297.3L183.8 297.3L184.55 297.3L185.3 297.3L186.05 297.3L186.8 297.3L187.55 297.3L188.3 297.3L189.05 297.3L189.8 297.3L190.55 297.3L191.3 297.3L192.05 297.3L192.8 297.3L193.55 297.3L194.3 297.3L195.05 297.3L195.8 297.3L196.55 297.3L197.3 297.3L198.05 297.3L198.8 297.3L199.55 297.3L200.3 297.3L201.05 297.3L201.8 297.3L202.55 297.3L203.3 297.3L204.05 297.3L204.8 297.3L205.55 297.3L206.3 297.3L207.05 297.3L207.8 297.3L208.55 297.3L209.3 297.3L210.05 297.3L210.8 297.3L211.55 297.3L212.3 297.3L213.05 297.3L213.8 297.3L214.55 297.3L215.3 297.3L216.05 297.3L216.8 297.3L217.55 297.3L218.3 297.3L219.05 297.3L219.8 297.3L220.55 297.3L221.3 297.3L222.05 297.3" fill="none" stroke="#111" stroke-width="1.12" clip-path="url(#c4)"/>
<rect x="36.8" y="201.3" width="185.5" height="137.6" fill="none" stroke="#222" stroke-width="1.1"/>
<path d="M45.72 338.9v-2.5M45.72 201.3v2.5M56.06 338.9v-2.5M56.06 201.3v2.5M66.41 338.9v-2.5M66.41 201.3v2.5M76.75 338.9v-2.5M76.75 201.3v2.5M87.1 338.9v-4.8M87.1 201.3v4.8M97.44 338.9v-2.5M97.44 201.3v2.5M107.79 338.9v-2.5M107.79 201.3v2.5M118.13 338.9v-2.5M118.13 201.3v2.5M128.48 338.9v-2.5M128.48 201.3v2.5M138.82 338.9v-4.8M138.82 201.3v4.8M149.17 338.9v-2.5M149.17 201.3v2.5M159.51 338.9v-2.5M159.51 201.3v2.5M169.86 338.9v-2.5M169.86 201.3v2.5M180.2 338.9v-2.5M180.2 201.3v2.5M190.55 338.9v-4.8M190.55 201.3v4.8M200.89 338.9v-2.5M200.89 201.3v2.5M211.24 338.9v-2.5M211.24 201.3v2.5M36.8 329.2h4.8M222.3 329.2h-4.8M36.8 313.25h2.5M222.3 313.25h-2.5M36.8 297.3h4.8M222.3 297.3h-4.8M36.8 281.35h2.5M222.3 281.35h-2.5M36.8 265.4h4.8M222.3 265.4h-4.8M36.8 249.45h2.5M222.3 249.45h-2.5M36.8 233.5h4.8M222.3 233.5h-4.8M36.8 217.55h2.5M222.3 217.55h-2.5" stroke="#222" stroke-width="0.9" fill="none"/>
<g class="r" transform="rotate(-90 30.9 329.2)"><text transform="rotate(0.03 23.39 329.2)" x="24.74 32.3" y="329.2" font-size="10.5">−2</text></g>
<g class="r" transform="rotate(-90 30.9 297.3)"><text transform="rotate(0.03 27.81 297.3)" x="27.88" y="297.3" font-size="10.5">0</text></g>
<g class="r" transform="rotate(-90 30.9 265.4)"><text transform="rotate(0.03 27.81 265.4)" x="27.88" y="265.4" font-size="10.5">2</text></g>
<g class="r" transform="rotate(-90 30.9 233.5)"><text transform="rotate(0.03 27.81 233.5)" x="27.88" y="233.5" font-size="10.5">4</text></g>
<g class="r" transform="rotate(-90 30.9 201.6)"><text transform="rotate(0.03 27.81 201.6)" x="27.88" y="201.6" font-size="10.5">6</text></g>
<text transform="rotate(0.03 66.49 351.9)" x="66.76 72.63 75.79 81.76 87.67 93.84 99.82" y="351.9" font-size="9.78">1.25×10</text><text transform="rotate(0.03 66.49 351.9)" x="105.72" y="347.16" font-size="6.85" style="stroke-width:0.18px">4</text>
<text transform="rotate(0.03 121.2 351.9)" x="121.47 127.35 130.5 136.4 142.58 148.56" y="351.9" font-size="9.78">1.3×10</text><text transform="rotate(0.03 121.2 351.9)" x="154.45" y="347.16" font-size="6.85" style="stroke-width:0.18px">4</text>
<text transform="rotate(0.03 169.94 351.9)" x="170.21 176.08 179.24 185.21 191.12 197.29 203.27" y="351.9" font-size="9.78">1.35×10</text><text transform="rotate(0.03 169.94 351.9)" x="209.17" y="347.16" font-size="6.85" style="stroke-width:0.18px">4</text>
<text transform="rotate(0.03 99.97 363.6)" x="99.97" y="363.6" font-size="9.78">v</text><text transform="rotate(0.03 99.97 363.6)" x="104.99 109.28 113.78" y="367.57" font-size="7.24" style="stroke-width:0.18px">opt</text><text transform="rotate(0.03 99.97 363.6)" x="117.22 121.53 125.43 130.98 140.71 144.65" y="363.6" font-size="9.78"> (km s</text><text transform="rotate(0.03 99.97 363.6)" x="150.79 156.07" y="358.86" font-size="6.85" style="stroke-width:0.18px">−1</text><text transform="rotate(0.03 99.97 363.6)" x="160.57" y="363.6" font-size="9.78">)</text>
<g class="r" transform="rotate(-90 11.4 268.8)"><text transform="rotate(0.03 -35.42 268.8) scale(0.86 1)" x="-41.2" y="268.8" font-size="10.6">F</text><text transform="rotate(0.03 -35.42 268.8)" x="-29.82 -27.43 -21.59 -15.33 -11 -6.88" y="268.8" font-size="10.6">lux (m</text><text transform="rotate(0.03 -35.42 268.8) scale(0.86 1)" x="2.72" y="268.8" font-size="10.6">J</text><text transform="rotate(0.03 -35.42 268.8)" x="6.9 13 16.92 22.62 28.31 34.39" y="268.8" font-size="10.6">y beam</text><text transform="rotate(0.03 -35.42 268.8)" x="44.39 49.73" y="264.01" font-size="7.42" style="stroke-width:0.18px">−1</text><text transform="rotate(0.03 -35.42 268.8)" x="54.3" y="268.8" font-size="10.6">)</text></g>
<text transform="rotate(0.03 55.35 213) scale(0.86 1)" x="64.44 67.74 75.68 83.12" y="213" font-size="10.72">IRAS</text><text transform="rotate(0.03 55.35 213)" x="79.14 83.64 90.25 96.86 103.46 110.07 118.1 126.44 133.05 139.65 146.26 153.75 158.51 162.84 169.63 177.47 183.94 187.44 194.05 200.65 207.51" y="213" font-size="10.72"> 20551−4250 (z=0.043)</text>
<text transform="rotate(0.03 126.3 227) scale(0.86 1)" x="147.3 155.73 163.85" y="227" font-size="10.72">HCO</text><text transform="rotate(0.03 126.3 227)" x="149.08" y="221.76" font-size="7.51" style="stroke-width:0.18px">+</text><text transform="rotate(0.03 126.3 227)" x="155.54 160.05 168.09 176.43" y="227" font-size="10.72"> 4−3</text><text transform="rotate(0.03 126.3 227)" x="183.92 188.12" y="227" font-size="10.72"> v</text><text transform="rotate(0.03 126.3 227)" x="193.74" y="231.39" font-size="7.93" style="stroke-width:0.18px">2</text><text transform="rotate(0.03 126.3 227)" x="199.64 207.47 214.27" y="227" font-size="10.72">=1f</text></g>
<g><clipPath id="c5"><rect x="288.7" y="201.3" width="185.5" height="137.6"/></clipPath>
<line x1="288.7" y1="333.6" x2="474.2" y2="333.6" stroke="#aaa" stroke-width="0.8" stroke-dasharray="1.8 2.1"/>
<path d="M288.7 334.54H290.7V334.51H292.7V333.07H294.7V335.42H296.7V333.71H298.7V335.39H300.7V332.73H302.7V333.44H304.7V332.52H306.7V334H308.7V333.28H310.7V333.83H312.7V334.19H314.7V333.48H316.7V334.6H318.7V333.88H320.7V333.05H322.7V333.55H324.7V333.93H326.7V331.86H328.7V333.55H330.7V334.07H332.7V333.47H334.7V334.01H336.7V333.91H338.7V333.88H340.7V331.99H342.7V333.58H344.7V333.45H346.7V333.03H348.7V331.9H350.7V333.54H352.7V333.57H354.7V330.5H356.7V332.47H358.7V329.55H360.7V325.32H362.7V318.78H364.7V313.8H366.7V304.98H368.7V290.36H370.7V277.82H372.7V264.35H374.7V252.22H376.7V244.65H378.7V241.85H380.7V245.17H382.7V251.57H384.7V262.85H386.7V277.38H388.7V291.25H390.7V302.48H392.7V312.67H394.7V321.42H396.7V326.22H398.7V328.43H400.7V331.39H402.7V332.73H404.7V332.9H406.7V333.39H408.7V333.51H410.7V335.09H412.7V332.2H414.7V333.44H416.7V334.29H418.7V332.82H420.7V333.35H422.7V333.59H424.7V332.77H426.7V331.81H427V333.6" fill="none" stroke="#000" stroke-width="1.0" stroke-linejoin="miter" clip-path="url(#c5)"/>
<path d="M288.7 333.6L289.45 333.6L290.2 333.6L290.95 333.6L291.7 333.6L292.45 333.6L293.2 333.6L293.95 333.6L294.7 333.6L295.45 333.6L296.2 333.6L296.95 333.6L297.7 333.6L298.45 333.6L299.2 333.6L299.95 333.6L300.7 333.6L301.45 333.6L302.2 333.6L302.95 333.6L303.7 333.6L304.45 333.6L305.2 333.6L305.95 333.6L306.7 333.6L307.45 333.6L308.2 333.6L308.95 333.6L309.7 333.6L310.45 333.6L311.2 333.6L311.95 333.6L312.7 333.6L313.45 333.6L314.2 333.6L314.95 333.6L315.7 333.6L316.45 333.6L317.2 333.6L317.95 333.6L318.7 333.6L319.45 333.6L320.2 333.6L320.95 333.6L321.7 333.6L322.45 333.6L323.2 333.6L323.95 333.6L324.7 333.6L325.45 333.6L326.2 333.6L326.95 333.6L327.7 333.6L328.45 333.6L329.2 333.6L329.95 333.6L330.7 333.6L331.45 333.6L332.2 333.6L332.95 333.6L333.7 333.6L334.45 333.6L335.2 333.6L335.95 333.6L336.7 333.6L337.45 333.6L338.2 333.6L338.95 333.6L339.7 333.6L340.45 333.6L341.2 333.6L341.95 333.6L342.7 333.6L343.45 333.6L344.2 333.6L344.95 333.6L345.7 333.59L346.45 333.59L347.2 333.59L347.95 333.58L348.7 333.57L349.45 333.56L350.2 333.54L350.95 333.51L351.7 333.47L352.45 333.41L353.2 333.33L353.95 333.23L354.7 333.08L355.45 332.89L356.2 332.64L356.95 332.31L357.7 331.88L358.45 331.33L359.2 330.64L359.95 329.78L360.7 328.72L361.45 327.41L362.2 325.83L362.95 323.95L363.7 321.73L364.45 319.13L365.2 316.14L365.95 312.73L366.7 308.91L367.45 304.66L368.2 300.01L368.95 294.99L369.7 289.65L370.45 284.05L371.2 278.29L371.95 272.46L372.7 266.66L373.45 261.02L374.2 255.68L374.95 250.75L375.7 246.36L376.45 242.63L377.2 239.66L377.95 237.53L378.7 236.3L379.45 236.02L380.2 236.68L380.95 238.27L381.7 240.75L382.45 244.03L383.2 248.04L383.95 252.66L384.7 257.77L385.45 263.25L386.2 268.97L386.95 274.79L387.7 280.61L388.45 286.32L389.2 291.82L389.95 297.04L390.7 301.91L391.45 306.41L392.2 310.49L392.95 314.15L393.7 317.39L394.45 320.22L395.2 322.66L395.95 324.74L396.7 326.5L397.45 327.96L398.2 329.17L398.95 330.15L399.7 330.94L400.45 331.57L401.2 332.06L401.95 332.45L402.7 332.75L403.45 332.97L404.2 333.14L404.95 333.27L405.7 333.37L406.45 333.43L407.2 333.48L407.95 333.52L408.7 333.55L409.45 333.56L410.2 333.57L410.95 333.58L411.7 333.59L412.45 333.59L413.2 333.6L413.95 333.6L414.7 333.6L415.45 333.6L416.2 333.6L416.95 333.6L417.7 333.6L418.45 333.6L419.2 333.6L419.95 333.6L420.7 333.6L421.45 333.6L422.2 333.6L422.95 333.6L423.7 333.6L424.45 333.6L425.2 333.6L425.95 333.6L426.7 333.6L427.45 333.6L428.2 333.6L428.95 333.6L429.7 333.6L430.45 333.6L431.2 333.6L431.95 333.6L432.7 333.6L433.45 333.6L434.2 333.6L434.95 333.6L435.7 333.6L436.45 333.6L437.2 333.6L437.95 333.6L438.7 333.6L439.45 333.6L440.2 333.6L440.95 333.6L441.7 333.6L442.45 333.6L443.2 333.6L443.95 333.6L444.7 333.6L445.45 333.6L446.2 333.6L446.95 333.6L447.7 333.6L448.45 333.6L449.2 333.6L449.95 333.6L450.7 333.6L451.45 333.6L452.2 333.6L452.95 333.6L453.7 333.6L454.45 333.6L455.2 333.6L455.95 333.6L456.7 333.6L457.45 333.6L458.2 333.6L458.95 333.6L459.7 333.6L460.45 333.6L461.2 333.6L461.95 333.6L462.7 333.6L463.45 333.6L464.2 333.6L464.95 333.6L465.7 333.6L466.45 333.6L467.2 333.6L467.95 333.6L468.7 333.6L469.45 333.6L470.2 333.6L470.95 333.6L471.7 333.6L472.45 333.6L473.2 333.6L473.95 333.6" fill="none" stroke="#111" stroke-width="1.12" clip-path="url(#c5)"/>
<rect x="288.7" y="201.3" width="185.5" height="137.6" fill="none" stroke="#222" stroke-width="1.1"/>
<path d="M297.62 338.9v-2.5M297.62 201.3v2.5M307.96 338.9v-2.5M307.96 201.3v2.5M318.31 338.9v-2.5M318.31 201.3v2.5M328.65 338.9v-2.5M328.65 201.3v2.5M339 338.9v-4.8M339 201.3v4.8M349.35 338.9v-2.5M349.35 201.3v2.5M359.69 338.9v-2.5M359.69 201.3v2.5M370.04 338.9v-2.5M370.04 201.3v2.5M380.38 338.9v-2.5M380.38 201.3v2.5M390.73 338.9v-4.8M390.73 201.3v4.8M401.07 338.9v-2.5M401.07 201.3v2.5M411.42 338.9v-2.5M411.42 201.3v2.5M421.76 338.9v-2.5M421.76 201.3v2.5M432.11 338.9v-2.5M432.11 201.3v2.5M442.45 338.9v-4.8M442.45 201.3v4.8M452.8 338.9v-2.5M452.8 201.3v2.5M463.14 338.9v-2.5M463.14 201.3v2.5M288.7 333.6h4.8M474.2 333.6h-4.8M288.7 307.15h2.5M474.2 307.15h-2.5M288.7 280.7h4.8M474.2 280.7h-4.8M288.7 254.25h2.5M474.2 254.25h-2.5M288.7 227.8h4.8M474.2 227.8h-4.8" stroke="#222" stroke-width="0.9" fill="none"/>
<g class="r" transform="rotate(-90 282.8 333.6)"><text transform="rotate(0.03 279.71 333.6)" x="279.78" y="333.6" font-size="10.5">0</text></g>
<g class="r" transform="rotate(-90 282.8 280.7)"><text transform="rotate(0.03 276.72 280.7)" x="276.79 282.77" y="280.7" font-size="10.5">20</text></g>
<g class="r" transform="rotate(-90 282.8 227.8)"><text transform="rotate(0.03 276.72 227.8)" x="276.79 282.77" y="227.8" font-size="10.5">40</text></g>
<text transform="rotate(0.03 318.39 351.9)" x="318.66 324.53 327.69 333.66 339.57 345.74 351.72" y="351.9" font-size="9.78">1.25×10</text><text transform="rotate(0.03 318.39 351.9)" x="357.62" y="347.16" font-size="6.85" style="stroke-width:0.18px">4</text>
<text transform="rotate(0.03 373.1 351.9)" x="373.37 379.25 382.4 388.3 394.48 400.46" y="351.9" font-size="9.78">1.3×10</text><text transform="rotate(0.03 373.1 351.9)" x="406.35" y="347.16" font-size="6.85" style="stroke-width:0.18px">4</text>
<text transform="rotate(0.03 421.84 351.9)" x="422.11 427.98 431.14 437.11 443.02 449.19 455.17" y="351.9" font-size="9.78">1.35×10</text><text transform="rotate(0.03 421.84 351.9)" x="461.07" y="347.16" font-size="6.85" style="stroke-width:0.18px">4</text>
<text transform="rotate(0.03 351.87 363.6)" x="351.87" y="363.6" font-size="9.78">v</text><text transform="rotate(0.03 351.87 363.6)" x="356.89 361.18 365.68" y="367.57" font-size="7.24" style="stroke-width:0.18px">opt</text><text transform="rotate(0.03 351.87 363.6)" x="369.12 373.43 377.33 382.88 392.61 396.55" y="363.6" font-size="9.78"> (km s</text><text transform="rotate(0.03 351.87 363.6)" x="402.69 407.97" y="358.86" font-size="6.85" style="stroke-width:0.18px">−1</text><text transform="rotate(0.03 351.87 363.6)" x="412.47" y="363.6" font-size="9.78">)</text>
<g class="r" transform="rotate(-90 263.3 268.8)"><text transform="rotate(0.03 216.48 268.8) scale(0.86 1)" x="251.71" y="268.8" font-size="10.6">F</text><text transform="rotate(0.03 216.48 268.8)" x="222.08 224.47 230.31 236.57 240.9 245.02" y="268.8" font-size="10.6">lux (m</text><text transform="rotate(0.03 216.48 268.8) scale(0.86 1)" x="295.63" y="268.8" font-size="10.6">J</text><text transform="rotate(0.03 216.48 268.8)" x="258.8 264.9 268.82 274.52 280.21 286.29" y="268.8" font-size="10.6">y beam</text><text transform="rotate(0.03 216.48 268.8)" x="296.29 301.63" y="264.01" font-size="7.42" style="stroke-width:0.18px">−1</text><text transform="rotate(0.03 216.48 268.8)" x="306.2" y="268.8" font-size="10.6">)</text></g>
<text transform="rotate(0.03 304.85 215.6) scale(0.86 1)" x="354.56 357.86 365.79 373.24" y="215.6" font-size="10.72">IRAS</text><text transform="rotate(0.03 304.85 215.6)" x="328.64 333.14 339.75 346.36 352.96 359.57 367.6 375.94 382.55 389.15 395.76 403.25 408.01 412.34 419.13 426.97 433.44 436.94 443.55 450.15 457.01" y="215.6" font-size="10.72"> 20551−4250 (z=0.043)</text>
<text transform="rotate(0.03 406.7 227.3) scale(0.86 1)" x="473.35 481.97 490.39" y="227.3" font-size="10.72">HNC</text><text transform="rotate(0.03 406.7 227.3)" x="429.81 434.32 442.36 450.7" y="227.3" font-size="10.72"> 4−3</text></g>
<g><clipPath id="c6"><rect x="540.2" y="201.3" width="185.5" height="137.6"/></clipPath>
<line x1="540.2" y1="319.1" x2="725.7" y2="319.1" stroke="#aaa" stroke-width="0.8" stroke-dasharray="1.8 2.1"/>
<path d="M540.25 319.14H544V326.19H546.25V304.15H548.19V317.94H549.99V341.9H551.94V317.19H553.74V315.39H555.69V313.14H557.49V311.94H559.29V325.44H561.24V322.44H563.04V323.94H564.69V320.19H566.49V335.18H568.28V310.44H570.08V305.65H571.88V316.44H573.68V328.13H575.48V327.24H577.28V323.19H579.08V317.19H580.88V341.9H582.68V308.19H584.48V297.7H586.28V311.94H588.07V321.69H589.87V324.69H591.67V319.44H593.47V318.69H595.27V317.94H597.07V316.44H598.87V318.24H600.67V295.45H602.47V313.44H604.27V308.19H606.07V290.95H607.87V297.7H609.66V287.96H611.46V278.66H613.26V296.2H615.06V277.01H616.86V287.96H618.66V281.96H620.46V302.95H622.26V280.46H624.06V282.71H625.86V279.71H627.65V267.27H629.45V289.75H631.25V278.96H633.05V266.22H634.85V259.77H636.64V287.96H638.44V288.7H640.24V271.46H642.04V305.2H643.84V285.71H646.54V249.72H648.49V220.49H650.29V208.49H652.24V198.3H672.48V260.97H674.28V278.96H676.07V283.46H677.87V286.46H679.67V306.7H681.47V309.69H683.27V317.94H685.07V316.44H686.87V308.19H688.67V306.25H690.47V341.9H692.27V334.43H694.07V324.69H695.87V323.94H697.66V283.46H699.46V274.46H701.26V258.72H703.06V286.76H704.86V218.69H706.96V271.76H708.46V235.18H710.26V242.23H712.06V242.98H713.86V244.78H715.66V246.28H717.45V319.1" fill="none" stroke="#000" stroke-width="1.0" stroke-linejoin="miter" clip-path="url(#c6)"/>
<path d="M540.2 319.1L540.95 319.1L541.7 319.1L542.45 319.1L543.2 319.09L543.95 319.09L544.7 319.09L545.45 319.09L546.2 319.09L546.95 319.09L547.7 319.09L548.45 319.08L549.2 319.08L549.95 319.08L550.7 319.08L551.45 319.07L552.2 319.07L552.95 319.06L553.7 319.06L554.45 319.05L555.2 319.05L555.95 319.04L556.7 319.03L557.45 319.02L558.2 319.01L558.95 319L559.7 318.98L560.45 318.97L561.2 318.95L561.95 318.93L562.7 318.91L563.45 318.88L564.2 318.86L564.95 318.83L565.7 318.79L566.45 318.75L567.2 318.71L567.95 318.67L568.7 318.62L569.45 318.56L570.2 318.5L570.95 318.43L571.7 318.36L572.45 318.28L573.2 318.19L573.95 318.1L574.7 317.99L575.45 317.88L576.2 317.75L576.95 317.62L577.7 317.47L578.45 317.32L579.2 317.14L579.95 316.96L580.7 316.76L581.45 316.55L582.2 316.32L582.95 316.07L583.7 315.81L584.45 315.53L585.2 315.23L585.95 314.91L586.7 314.57L587.45 314.21L588.2 313.83L588.95 313.42L589.7 313L590.45 312.55L591.2 312.07L591.95 311.57L592.7 311.05L593.45 310.5L594.2 309.93L594.95 309.33L595.7 308.71L596.45 308.06L597.2 307.38L597.95 306.69L598.7 305.96L599.45 305.22L600.2 304.45L600.95 303.66L601.7 302.85L602.45 302.02L603.2 301.17L603.95 300.3L604.7 299.42L605.45 298.53L606.2 297.62L606.95 296.7L607.7 295.78L608.45 294.85L609.2 293.91L609.95 292.98L610.7 292.05L611.45 291.12L612.2 290.19L612.95 289.28L613.7 288.38L614.45 287.5L615.2 286.63L615.95 285.78L616.7 284.96L617.45 284.16L618.2 283.39L618.95 282.66L619.7 281.96L620.45 281.29L621.2 280.67L621.95 280.09L622.7 279.55L623.45 279.06L624.2 278.61L624.95 278.22L625.7 277.88L626.45 277.59L627.2 277.35L627.95 277.17L628.7 277.04L629.45 276.98L630.2 276.96L630.95 277.01L631.7 277.1L632.45 277.26L633.2 277.47L633.95 277.74L634.7 278.05L635.45 278.42L636.2 278.84L636.95 279.31L637.7 279.83L638.45 280.39L639.2 281L639.95 281.64L640.7 282.33L641.45 283.05L642.2 283.8L642.95 284.58L643.7 285.39L644.45 286.23L645.2 287.09L645.95 287.97L646.7 288.86L647.45 289.77L648.2 290.69L648.95 291.61L649.7 292.54L650.45 293.48L651.2 294.41L651.95 295.35L652.7 296.27L653.45 297.19L654.2 298.11L654.95 299.01L655.7 299.9L656.45 300.77L657.2 301.63L657.95 302.46L658.7 303.28L659.45 304.08L660.2 304.86L660.95 305.62L661.7 306.35L662.45 307.06L663.2 307.75L663.95 308.41L664.7 309.04L665.45 309.65L666.2 310.24L666.95 310.8L667.7 311.33L668.45 311.84L669.2 312.33L669.95 312.79L670.7 313.23L671.45 313.64L672.2 314.04L672.95 314.41L673.7 314.76L674.45 315.08L675.2 315.39L675.95 315.68L676.7 315.95L677.45 316.21L678.2 316.44L678.95 316.66L679.7 316.87L680.45 317.06L681.2 317.24L681.95 317.4L682.7 317.55L683.45 317.69L684.2 317.82L684.95 317.94L685.7 318.05L686.45 318.15L687.2 318.24L687.95 318.32L688.7 318.4L689.45 318.47L690.2 318.53L690.95 318.59L691.7 318.65L692.45 318.69L693.2 318.74L693.95 318.78L694.7 318.81L695.45 318.84L696.2 318.87L696.95 318.9L697.7 318.92L698.45 318.94L699.2 318.96L699.95 318.98L700.7 318.99L701.45 319L702.2 319.01L702.95 319.03L703.7 319.03L704.45 319.04L705.2 319.05L705.95 319.06L706.7 319.06L707.45 319.07L708.2 319.07L708.95 319.07L709.7 319.08L710.45 319.08L711.2 319.08L711.95 319.09L712.7 319.09L713.45 319.09L714.2 319.09L714.95 319.09L715.7 319.09L716.45 319.09L717.2 319.1L717.95 319.1L718.7 319.1L719.45 319.1L720.2 319.1L720.95 319.1L721.7 319.1L722.45 319.1L723.2 319.1L723.95 319.1L724.7 319.1L725.45 319.1" fill="none" stroke="#111" stroke-width="1.12" clip-path="url(#c6)"/>
<rect x="540.2" y="201.3" width="185.5" height="137.6" fill="none" stroke="#222" stroke-width="1.1"/>
<path d="M549.12 338.9v-2.5M549.12 201.3v2.5M559.47 338.9v-2.5M559.47 201.3v2.5M569.81 338.9v-2.5M569.81 201.3v2.5M580.15 338.9v-2.5M580.15 201.3v2.5M590.5 338.9v-4.8M590.5 201.3v4.8M600.85 338.9v-2.5M600.85 201.3v2.5M611.19 338.9v-2.5M611.19 201.3v2.5M621.53 338.9v-2.5M621.53 201.3v2.5M631.88 338.9v-2.5M631.88 201.3v2.5M642.23 338.9v-4.8M642.23 201.3v4.8M652.57 338.9v-2.5M652.57 201.3v2.5M662.91 338.9v-2.5M662.91 201.3v2.5M673.26 338.9v-2.5M673.26 201.3v2.5M683.61 338.9v-2.5M683.61 201.3v2.5M693.95 338.9v-4.8M693.95 201.3v4.8M704.29 338.9v-2.5M704.29 201.3v2.5M714.64 338.9v-2.5M714.64 201.3v2.5M540.2 319.1h4.8M725.7 319.1h-4.8M540.2 299.5h2.5M725.7 299.5h-2.5M540.2 279.9h4.8M725.7 279.9h-4.8M540.2 260.3h2.5M725.7 260.3h-2.5M540.2 240.7h4.8M725.7 240.7h-4.8M540.2 221.1h2.5M725.7 221.1h-2.5" stroke="#222" stroke-width="0.9" fill="none"/>
<g class="r" transform="rotate(-90 534.3 319.1)"><text transform="rotate(0.03 531.21 319.1)" x="531.28" y="319.1" font-size="10.5">0</text></g>
<g class="r" transform="rotate(-90 534.3 279.9)"><text transform="rotate(0.03 531.21 279.9)" x="531.28" y="279.9" font-size="10.5">2</text></g>
<g class="r" transform="rotate(-90 534.3 240.7)"><text transform="rotate(0.03 531.21 240.7)" x="531.28" y="240.7" font-size="10.5">4</text></g>
<g class="r" transform="rotate(-90 534.3 201.5)"><text transform="rotate(0.03 531.21 201.5)" x="531.28" y="201.5" font-size="10.5">6</text></g>
<text transform="rotate(0.03 569.89 351.9)" x="570.16 576.03 579.19 585.16 591.07 597.24 603.22" y="351.9" font-size="9.78">1.25×10</text><text transform="rotate(0.03 569.89 351.9)" x="609.12" y="347.16" font-size="6.85" style="stroke-width:0.18px">4</text>
<text transform="rotate(0.03 624.6 351.9)" x="624.87 630.75 633.9 639.8 645.98 651.96" y="351.9" font-size="9.78">1.3×10</text><text transform="rotate(0.03 624.6 351.9)" x="657.85" y="347.16" font-size="6.85" style="stroke-width:0.18px">4</text>
<text transform="rotate(0.03 673.34 351.9)" x="673.61 679.48 682.64 688.61 694.52 700.69 706.67" y="351.9" font-size="9.78">1.35×10</text><text transform="rotate(0.03 673.34 351.9)" x="712.57" y="347.16" font-size="6.85" style="stroke-width:0.18px">4</text>
<text transform="rotate(0.03 603.37 363.6)" x="603.37" y="363.6" font-size="9.78">v</text><text transform="rotate(0.03 603.37 363.6)" x="608.39 612.68 617.18" y="367.57" font-size="7.24" style="stroke-width:0.18px">opt</text><text transform="rotate(0.03 603.37 363.6)" x="620.62 624.93 628.83 634.38 644.11 648.05" y="363.6" font-size="9.78"> (km s</text><text transform="rotate(0.03 603.37 363.6)" x="654.19 659.47" y="358.86" font-size="6.85" style="stroke-width:0.18px">−1</text><text transform="rotate(0.03 603.37 363.6)" x="663.97" y="363.6" font-size="9.78">)</text>
<g class="r" transform="rotate(-90 514.8 268.8)"><text transform="rotate(0.03 467.98 268.8) scale(0.86 1)" x="544.15" y="268.8" font-size="10.6">F</text><text transform="rotate(0.03 467.98 268.8)" x="473.58 475.97 481.81 488.07 492.4 496.52" y="268.8" font-size="10.6">lux (m</text><text transform="rotate(0.03 467.98 268.8) scale(0.86 1)" x="588.07" y="268.8" font-size="10.6">J</text><text transform="rotate(0.03 467.98 268.8)" x="510.3 516.4 520.32 526.02 531.71 537.79" y="268.8" font-size="10.6">y beam</text><text transform="rotate(0.03 467.98 268.8)" x="547.79 553.13" y="264.01" font-size="7.42" style="stroke-width:0.18px">−1</text><text transform="rotate(0.03 467.98 268.8)" x="557.7" y="268.8" font-size="10.6">)</text></g>
<text transform="rotate(0.03 553.35 214.2) scale(0.86 1)" x="643.51 646.81 654.75 662.19" y="214.2" font-size="10.72">IRAS</text><text transform="rotate(0.03 553.35 214.2)" x="577.14 581.64 588.25 594.86 601.46 608.07 616.1 624.44 631.05 637.65 644.26 651.75 656.51 660.84 667.63 675.47 681.94 685.44 692.05 698.65 705.51" y="214.2" font-size="10.72"> 20551−4250 (z=0.043)</text>
<text transform="rotate(0.03 553.8 232.2) scale(0.86 1)" x="644.39 653.01 661.44" y="232.2" font-size="10.72">HNC</text><text transform="rotate(0.03 553.8 232.2)" x="576.91 581.42 589.46 597.8" y="232.2" font-size="10.72"> 4−3</text><text transform="rotate(0.03 553.8 232.2)" x="605.29 609.49" y="232.2" font-size="10.72"> v</text><text transform="rotate(0.03 553.8 232.2)" x="615.1" y="236.59" font-size="7.93" style="stroke-width:0.18px">2</text><text transform="rotate(0.03 553.8 232.2)" x="621 628.84 635.64" y="232.2" font-size="10.72">=1f</text></g>
<g><clipPath id="c7"><rect x="36.8" y="395.4" width="185.5" height="137.9"/></clipPath>
<line x1="36.8" y1="497.7" x2="222.3" y2="497.7" stroke="#aaa" stroke-width="0.8" stroke-dasharray="1.8 2.1"/>
<path d="M83.44 497.7V529.75H84.35V516.81H86.18V489.41H88V497.02H89.22V491.7H90.74V490.17H92.57V484.09H93.48V498.54H94.55V500.83H95.61V509.96H96.53V514.53H97.44V498.54H98.35V497.02H99.27V503.11H100.18V495.5H101.09V487.13H102.01V500.83H102.92V487.89H103.83V505.39H104.75V489.41H105.66V498.54H106.57V490.93H107.49V497.02H108.4V480.28H109.31V493.22H110.23V503.11H111.14V489.41H112.05V498.54H112.96V484.85H113.88V497.02H114.79V474.95H116.62V474.19H118.44V461.25H120.27V442.23H121.18V465.06H122.1V438.42H123.01V458.97H123.92V477.24H124.84V449.84H125.75V447.56H126.66V442.23H127.58V427.01H128.49V445.27H129.4V446.79H130.32V444.51H131.23V423.2H132.14V442.23H133.06V481.04H133.97V452.88H134.88V474.19H135.8V452.12H136.4V437.66H137.32V471.15H138.23V452.88H139.14V463.54H140.06V458.97H140.97V449.84H141.88V462.02H142.8V466.58H143.71V481.8H144.62V465.06H145.54V448.32H146.45V466.58H147.36V471.15H148.28V497.02H149.19V477.24H150.1V483.32H151.02V461.25H151.93V480.28H152.84V483.32H153.76V472.67H154.67V489.41H155.58V480.28H156.5V501.59H157.41V505.39H158.63V503.87H159.54V498.54H160.45V501.59H161.37V481.8H162.28V503.11H163.19V498.54H164.11V492.46H165.02V504.63H165.93V507.68H166.85V511.48H167.76V512.24H168.67V513.77H169.59V500.07H170.5V495.5H171.41V497.7" fill="none" stroke="#000" stroke-width="1.1" stroke-linejoin="miter" clip-path="url(#c7)"/>
<path d="M36.8 497.7L37.55 497.7L38.3 497.7L39.05 497.7L39.8 497.7L40.55 497.7L41.3 497.7L42.05 497.7L42.8 497.7L43.55 497.7L44.3 497.7L45.05 497.7L45.8 497.7L46.55 497.7L47.3 497.7L48.05 497.7L48.8 497.7L49.55 497.7L50.3 497.7L51.05 497.7L51.8 497.7L52.55 497.7L53.3 497.7L54.05 497.7L54.8 497.7L55.55 497.7L56.3 497.7L57.05 497.7L57.8 497.7L58.55 497.7L59.3 497.7L60.05 497.7L60.8 497.7L61.55 497.7L62.3 497.7L63.05 497.7L63.8 497.7L64.55 497.7L65.3 497.7L66.05 497.7L66.8 497.7L67.55 497.7L68.3 497.7L69.05 497.7L69.8 497.7L70.55 497.7L71.3 497.7L72.05 497.7L72.8 497.7L73.55 497.7L74.3 497.7L75.05 497.7L75.8 497.7L76.55 497.7L77.3 497.7L78.05 497.7L78.8 497.7L79.55 497.69L80.3 497.69L81.05 497.69L81.8 497.69L82.55 497.68L83.3 497.68L84.05 497.67L84.8 497.67L85.55 497.66L86.3 497.65L87.05 497.64L87.8 497.62L88.55 497.6L89.3 497.58L90.05 497.55L90.8 497.51L91.55 497.47L92.3 497.42L93.05 497.36L93.8 497.29L94.55 497.21L95.3 497.11L96.05 496.99L96.8 496.86L97.55 496.7L98.3 496.51L99.05 496.3L99.8 496.06L100.55 495.78L101.3 495.46L102.05 495.1L102.8 494.69L103.55 494.23L104.3 493.71L105.05 493.13L105.8 492.49L106.55 491.78L107.3 491L108.05 490.14L108.8 489.2L109.55 488.18L110.3 487.07L111.05 485.89L111.8 484.61L112.55 483.26L113.3 481.82L114.05 480.3L114.8 478.7L115.55 477.04L116.3 475.31L117.05 473.52L117.8 471.69L118.55 469.82L119.3 467.93L120.05 466.02L120.8 464.12L121.55 462.23L122.3 460.37L123.05 458.56L123.8 456.8L124.55 455.13L125.3 453.55L126.05 452.08L126.8 450.73L127.55 449.52L128.3 448.45L129.05 447.55L129.8 446.82L130.55 446.26L131.3 445.89L132.05 445.71L132.8 445.71L133.55 445.91L134.3 446.29L135.05 446.86L135.8 447.6L136.55 448.52L137.3 449.59L138.05 450.81L138.8 452.17L139.55 453.65L140.3 455.24L141.05 456.92L141.8 458.68L142.55 460.49L143.3 462.35L144.05 464.25L144.8 466.15L145.55 468.06L146.3 469.95L147.05 471.82L147.8 473.65L148.55 475.43L149.3 477.15L150.05 478.81L150.8 480.4L151.55 481.92L152.3 483.35L153.05 484.7L153.8 485.97L154.55 487.15L155.3 488.25L156.05 489.26L156.8 490.2L157.55 491.05L158.3 491.83L159.05 492.53L159.8 493.17L160.55 493.75L161.3 494.26L162.05 494.72L162.8 495.12L163.55 495.48L164.3 495.8L165.05 496.08L165.8 496.32L166.55 496.53L167.3 496.71L168.05 496.87L168.8 497L169.55 497.12L170.3 497.21L171.05 497.3L171.8 497.37L172.55 497.42L173.3 497.47L174.05 497.52L174.8 497.55L175.55 497.58L176.3 497.6L177.05 497.62L177.8 497.64L178.55 497.65L179.3 497.66L180.05 497.67L180.8 497.67L181.55 497.68L182.3 497.68L183.05 497.69L183.8 497.69L184.55 497.69L185.3 497.69L186.05 497.7L186.8 497.7L187.55 497.7L188.3 497.7L189.05 497.7L189.8 497.7L190.55 497.7L191.3 497.7L192.05 497.7L192.8 497.7L193.55 497.7L194.3 497.7L195.05 497.7L195.8 497.7L196.55 497.7L197.3 497.7L198.05 497.7L198.8 497.7L199.55 497.7L200.3 497.7L201.05 497.7L201.8 497.7L202.55 497.7L203.3 497.7L204.05 497.7L204.8 497.7L205.55 497.7L206.3 497.7L207.05 497.7L207.8 497.7L208.55 497.7L209.3 497.7L210.05 497.7L210.8 497.7L211.55 497.7L212.3 497.7L213.05 497.7L213.8 497.7L214.55 497.7L215.3 497.7L216.05 497.7L216.8 497.7L217.55 497.7L218.3 497.7L219.05 497.7L219.8 497.7L220.55 497.7L221.3 497.7L222.05 497.7" fill="none" stroke="#111" stroke-width="1.15" clip-path="url(#c7)"/>
<rect x="36.8" y="395.4" width="185.5" height="137.9" fill="none" stroke="#222" stroke-width="1.1"/>
<path d="M45.72 533.3v-2.5M45.72 395.4v2.5M56.06 533.3v-2.5M56.06 395.4v2.5M66.41 533.3v-2.5M66.41 395.4v2.5M76.75 533.3v-2.5M76.75 395.4v2.5M87.1 533.3v-4.8M87.1 395.4v4.8M97.44 533.3v-2.5M97.44 395.4v2.5M107.79 533.3v-2.5M107.79 395.4v2.5M118.13 533.3v-2.5M118.13 395.4v2.5M128.48 533.3v-2.5M128.48 395.4v2.5M138.82 533.3v-4.8M138.82 395.4v4.8M149.17 533.3v-2.5M149.17 395.4v2.5M159.51 533.3v-2.5M159.51 395.4v2.5M169.86 533.3v-2.5M169.86 395.4v2.5M180.2 533.3v-2.5M180.2 395.4v2.5M190.55 533.3v-4.8M190.55 395.4v4.8M200.89 533.3v-2.5M200.89 395.4v2.5M211.24 533.3v-2.5M211.24 395.4v2.5M36.8 528.6h2.5M222.3 528.6h-2.5M36.8 518.3h2.5M222.3 518.3h-2.5M36.8 508h2.5M222.3 508h-2.5M36.8 497.7h4.8M222.3 497.7h-4.8M36.8 487.4h2.5M222.3 487.4h-2.5M36.8 477.1h2.5M222.3 477.1h-2.5M36.8 466.8h2.5M222.3 466.8h-2.5M36.8 456.5h2.5M222.3 456.5h-2.5M36.8 446.2h4.8M222.3 446.2h-4.8M36.8 435.9h2.5M222.3 435.9h-2.5M36.8 425.6h2.5M222.3 425.6h-2.5M36.8 415.3h2.5M222.3 415.3h-2.5M36.8 405h2.5M222.3 405h-2.5" stroke="#222" stroke-width="0.9" fill="none"/>
<g class="r" transform="rotate(-90 30.9 497.7)"><text transform="rotate(0.03 27.81 497.7)" x="27.88" y="497.7" font-size="10.5">0</text></g>
<g class="r" transform="rotate(-90 30.9 446.2)"><text transform="rotate(0.03 24.82 446.2)" x="24.89 30.87" y="446.2" font-size="10.5">50</text></g>
<g class="r" transform="rotate(-90 30.9 394.7)"><text transform="rotate(0.03 21.83 394.7)" x="21.9 27.88 33.86" y="394.7" font-size="10.5">100</text></g>
<text transform="rotate(0.03 66.49 546.3)" x="66.76 72.63 75.79 81.76 87.67 93.84 99.82" y="546.3" font-size="9.78">1.25×10</text><text transform="rotate(0.03 66.49 546.3)" x="105.72" y="541.56" font-size="6.85" style="stroke-width:0.18px">4</text>
<text transform="rotate(0.03 121.2 546.3)" x="121.47 127.35 130.5 136.4 142.58 148.56" y="546.3" font-size="9.78">1.3×10</text><text transform="rotate(0.03 121.2 546.3)" x="154.45" y="541.56" font-size="6.85" style="stroke-width:0.18px">4</text>
<text transform="rotate(0.03 169.94 546.3)" x="170.21 176.08 179.24 185.21 191.12 197.29 203.27" y="546.3" font-size="9.78">1.35×10</text><text transform="rotate(0.03 169.94 546.3)" x="209.17" y="541.56" font-size="6.85" style="stroke-width:0.18px">4</text>
<text transform="rotate(0.03 99.97 558)" x="99.97" y="558" font-size="9.78">v</text><text transform="rotate(0.03 99.97 558)" x="104.99 109.28 113.78" y="561.97" font-size="7.24" style="stroke-width:0.18px">opt</text><text transform="rotate(0.03 99.97 558)" x="117.22 121.53 125.43 130.98 140.71 144.65" y="558" font-size="9.78"> (km s</text><text transform="rotate(0.03 99.97 558)" x="150.79 156.07" y="553.26" font-size="6.85" style="stroke-width:0.18px">−1</text><text transform="rotate(0.03 99.97 558)" x="160.57" y="558" font-size="9.78">)</text>
<g class="r" transform="rotate(-90 11.4 463.05)"><text transform="rotate(0.03 -35.42 463.05) scale(0.86 1)" x="-41.2" y="463.05" font-size="10.6">F</text><text transform="rotate(0.03 -35.42 463.05)" x="-29.82 -27.43 -21.59 -15.33 -11 -6.88" y="463.05" font-size="10.6">lux (m</text><text transform="rotate(0.03 -35.42 463.05) scale(0.86 1)" x="2.72" y="463.05" font-size="10.6">J</text><text transform="rotate(0.03 -35.42 463.05)" x="6.9 13 16.92 22.62 28.31 34.39" y="463.05" font-size="10.6">y beam</text><text transform="rotate(0.03 -35.42 463.05)" x="44.39 49.73" y="458.26" font-size="7.42" style="stroke-width:0.18px">−1</text><text transform="rotate(0.03 -35.42 463.05)" x="54.3" y="463.05" font-size="10.6">)</text></g>
<text transform="rotate(0.03 53.75 407.1) scale(0.86 1)" x="62.58 65.88 73.82 81.26" y="407.1" font-size="10.72">IRAS</text><text transform="rotate(0.03 53.75 407.1)" x="77.54 82.04 88.65 95.26 101.86 108.47 116.5 124.84 131.45 138.05 144.66 152.15 156.91 161.24 168.03 175.87 182.34 185.84 192.45 199.05 205.91" y="407.1" font-size="10.72"> 20551−4250 (z=0.043)</text>
<text transform="rotate(0.03 154 419) scale(0.86 1)" x="179.51 187.93 196.36" y="419" font-size="10.72">HCN</text><text transform="rotate(0.03 154 419)" x="177.11 181.62 189.66 198" y="419" font-size="10.72"> 8−7</text></g>
<g><clipPath id="c8"><rect x="288.7" y="395.4" width="185.5" height="137.9"/></clipPath>
<line x1="288.7" y1="507.6" x2="474.2" y2="507.6" stroke="#aaa" stroke-width="0.8" stroke-dasharray="1.8 2.1"/>
<path d="M356.5 507.6V503.01H357.22V520.02H358.11V495.85H359.01V508.38H360.08V504.8H361.15V514.65H362.23V500.33H363.3V509.28H364.38V485.11H365.45V506.59H366.53V485.11H367.6V470.78H369.75V483.32H371.18V489.58H372.26V470.78H372.97V452.88H374.05V463.62H374.76V434.97H375.84V463.62H376.91V423.33H377.99V442.13H379.06V432.29H380.13V443.92H381.21V454.67H382.28V445.72H383.36V456.46H384.43V461.83H385.51V468.99H386.58V474.36H387.65V459.14H388.73V481.53H389.8V477.94H390.88V476.15H391.95V518.23H393.03V499.43H394.1V490.48H395.17V503.01H396.25V509.28H397.32V517.34H398.4V510.17H399.47V493.16H400.55V515.55H401.62V503.01H402.69V501.22H403.77V508.38H404.84V510.17H405.92V509.28H406.99V502.12H408.07V520.92H409.14V500.33H410.21V510.17H411.29V504.8H412.36V511.07H413.44V507.49H414.51V509.28H415.59V497.64H416.66V515.55H417.74V531.66H418.81V495.85H419.88V510.17H420.96V501.22H422.03V499.43H423.11V493.16H424.18V494.95H425.26V497.64H426.33V498.54H427.4V499.43H428.48V500.33H429.55V501.22H430.63V502.12H431.7V504.8H432.78V521.81H433.85V496.74H434.92V515.55H436V511.07H437.07V517.34H438.15V527.18H439.22V517.34H440.3V515.55H441.37V506.59H442.44V491.37H443.16V507.6" fill="none" stroke="#000" stroke-width="1.1" stroke-linejoin="miter" clip-path="url(#c8)"/>
<path d="M288.7 507.6L289.45 507.6L290.2 507.6L290.95 507.6L291.7 507.6L292.45 507.6L293.2 507.6L293.95 507.6L294.7 507.6L295.45 507.6L296.2 507.6L296.95 507.6L297.7 507.6L298.45 507.6L299.2 507.6L299.95 507.6L300.7 507.6L301.45 507.6L302.2 507.6L302.95 507.6L303.7 507.6L304.45 507.6L305.2 507.6L305.95 507.6L306.7 507.6L307.45 507.6L308.2 507.6L308.95 507.6L309.7 507.6L310.45 507.6L311.2 507.6L311.95 507.6L312.7 507.6L313.45 507.6L314.2 507.6L314.95 507.6L315.7 507.6L316.45 507.6L317.2 507.6L317.95 507.6L318.7 507.6L319.45 507.6L320.2 507.6L320.95 507.6L321.7 507.6L322.45 507.6L323.2 507.6L323.95 507.6L324.7 507.6L325.45 507.6L326.2 507.6L326.95 507.6L327.7 507.6L328.45 507.6L329.2 507.6L329.95 507.6L330.7 507.6L331.45 507.6L332.2 507.6L332.95 507.6L333.7 507.6L334.45 507.6L335.2 507.6L335.95 507.6L336.7 507.6L337.45 507.6L338.2 507.6L338.95 507.6L339.7 507.6L340.45 507.6L341.2 507.6L341.95 507.6L342.7 507.6L343.45 507.6L344.2 507.6L344.95 507.59L345.7 507.59L346.45 507.58L347.2 507.58L347.95 507.56L348.7 507.55L349.45 507.53L350.2 507.5L350.95 507.46L351.7 507.4L352.45 507.33L353.2 507.23L353.95 507.1L354.7 506.93L355.45 506.71L356.2 506.42L356.95 506.07L357.7 505.62L358.45 505.07L359.2 504.39L359.95 503.56L360.7 502.57L361.45 501.39L362.2 500.01L362.95 498.4L363.7 496.54L364.45 494.43L365.2 492.06L365.95 489.43L366.7 486.54L367.45 483.41L368.2 480.07L368.95 476.54L369.7 472.88L370.45 469.13L371.2 465.37L371.95 461.65L372.7 458.05L373.45 454.65L374.2 451.52L374.95 448.74L375.7 446.38L376.45 444.49L377.2 443.13L377.95 442.33L378.7 442.11L379.45 442.49L380.2 443.44L380.95 444.94L381.7 446.96L382.45 449.44L383.2 452.32L383.95 455.53L384.7 458.99L385.45 462.63L386.2 466.37L386.95 470.14L387.7 473.87L388.45 477.5L389.2 480.98L389.95 484.27L390.7 487.33L391.45 490.16L392.2 492.72L392.95 495.02L393.7 497.06L394.45 498.85L395.2 500.4L395.95 501.73L396.7 502.85L397.45 503.8L398.2 504.58L398.95 505.23L399.7 505.75L400.45 506.17L401.2 506.51L401.95 506.77L402.7 506.98L403.45 507.13L404.2 507.26L404.95 507.35L405.7 507.42L406.45 507.47L407.2 507.51L407.95 507.53L408.7 507.55L409.45 507.57L410.2 507.58L410.95 507.59L411.7 507.59L412.45 507.59L413.2 507.6L413.95 507.6L414.7 507.6L415.45 507.6L416.2 507.6L416.95 507.6L417.7 507.6L418.45 507.6L419.2 507.6L419.95 507.6L420.7 507.6L421.45 507.6L422.2 507.6L422.95 507.6L423.7 507.6L424.45 507.6L425.2 507.6L425.95 507.6L426.7 507.6L427.45 507.6L428.2 507.6L428.95 507.6L429.7 507.6L430.45 507.6L431.2 507.6L431.95 507.6L432.7 507.6L433.45 507.6L434.2 507.6L434.95 507.6L435.7 507.6L436.45 507.6L437.2 507.6L437.95 507.6L438.7 507.6L439.45 507.6L440.2 507.6L440.95 507.6L441.7 507.6L442.45 507.6L443.2 507.6L443.95 507.6L444.7 507.6L445.45 507.6L446.2 507.6L446.95 507.6L447.7 507.6L448.45 507.6L449.2 507.6L449.95 507.6L450.7 507.6L451.45 507.6L452.2 507.6L452.95 507.6L453.7 507.6L454.45 507.6L455.2 507.6L455.95 507.6L456.7 507.6L457.45 507.6L458.2 507.6L458.95 507.6L459.7 507.6L460.45 507.6L461.2 507.6L461.95 507.6L462.7 507.6L463.45 507.6L464.2 507.6L464.95 507.6L465.7 507.6L466.45 507.6L467.2 507.6L467.95 507.6L468.7 507.6L469.45 507.6L470.2 507.6L470.95 507.6L471.7 507.6L472.45 507.6L473.2 507.6L473.95 507.6" fill="none" stroke="#111" stroke-width="1.15" clip-path="url(#c8)"/>
<rect x="288.7" y="395.4" width="185.5" height="137.9" fill="none" stroke="#222" stroke-width="1.1"/>
<path d="M297.62 533.3v-2.5M297.62 395.4v2.5M307.96 533.3v-2.5M307.96 395.4v2.5M318.31 533.3v-2.5M318.31 395.4v2.5M328.65 533.3v-2.5M328.65 395.4v2.5M339 533.3v-4.8M339 395.4v4.8M349.35 533.3v-2.5M349.35 395.4v2.5M359.69 533.3v-2.5M359.69 395.4v2.5M370.04 533.3v-2.5M370.04 395.4v2.5M380.38 533.3v-2.5M380.38 395.4v2.5M390.73 533.3v-4.8M390.73 395.4v4.8M401.07 533.3v-2.5M401.07 395.4v2.5M411.42 533.3v-2.5M411.42 395.4v2.5M421.76 533.3v-2.5M421.76 395.4v2.5M432.11 533.3v-2.5M432.11 395.4v2.5M442.45 533.3v-4.8M442.45 395.4v4.8M452.8 533.3v-2.5M452.8 395.4v2.5M463.14 533.3v-2.5M463.14 395.4v2.5M288.7 524.88h2.5M474.2 524.88h-2.5M288.7 516.24h2.5M474.2 516.24h-2.5M288.7 507.6h4.8M474.2 507.6h-4.8M288.7 498.96h2.5M474.2 498.96h-2.5M288.7 490.32h2.5M474.2 490.32h-2.5M288.7 481.68h2.5M474.2 481.68h-2.5M288.7 473.04h2.5M474.2 473.04h-2.5M288.7 464.4h4.8M474.2 464.4h-4.8M288.7 455.76h2.5M474.2 455.76h-2.5M288.7 447.12h2.5M474.2 447.12h-2.5M288.7 438.48h2.5M474.2 438.48h-2.5M288.7 429.84h2.5M474.2 429.84h-2.5M288.7 421.2h4.8M474.2 421.2h-4.8M288.7 412.56h2.5M474.2 412.56h-2.5M288.7 403.92h2.5M474.2 403.92h-2.5" stroke="#222" stroke-width="0.9" fill="none"/>
<g class="r" transform="rotate(-90 282.8 507.6)"><text transform="rotate(0.03 279.71 507.6)" x="279.78" y="507.6" font-size="10.5">0</text></g>
<g class="r" transform="rotate(-90 282.8 464.4)"><text transform="rotate(0.03 276.72 464.4)" x="276.79 282.77" y="464.4" font-size="10.5">50</text></g>
<g class="r" transform="rotate(-90 282.8 421.2)"><text transform="rotate(0.03 273.73 421.2)" x="273.8 279.78 285.76" y="421.2" font-size="10.5">100</text></g>
<text transform="rotate(0.03 318.39 546.3)" x="318.66 324.53 327.69 333.66 339.57 345.74 351.72" y="546.3" font-size="9.78">1.25×10</text><text transform="rotate(0.03 318.39 546.3)" x="357.62" y="541.56" font-size="6.85" style="stroke-width:0.18px">4</text>
<text transform="rotate(0.03 373.1 546.3)" x="373.37 379.25 382.4 388.3 394.48 400.46" y="546.3" font-size="9.78">1.3×10</text><text transform="rotate(0.03 373.1 546.3)" x="406.35" y="541.56" font-size="6.85" style="stroke-width:0.18px">4</text>
<text transform="rotate(0.03 421.84 546.3)" x="422.11 427.98 431.14 437.11 443.02 449.19 455.17" y="546.3" font-size="9.78">1.35×10</text><text transform="rotate(0.03 421.84 546.3)" x="461.07" y="541.56" font-size="6.85" style="stroke-width:0.18px">4</text>
<text transform="rotate(0.03 351.87 558)" x="351.87" y="558" font-size="9.78">v</text><text transform="rotate(0.03 351.87 558)" x="356.89 361.18 365.68" y="561.97" font-size="7.24" style="stroke-width:0.18px">opt</text><text transform="rotate(0.03 351.87 558)" x="369.12 373.43 377.33 382.88 392.61 396.55" y="558" font-size="9.78"> (km s</text><text transform="rotate(0.03 351.87 558)" x="402.69 407.97" y="553.26" font-size="6.85" style="stroke-width:0.18px">−1</text><text transform="rotate(0.03 351.87 558)" x="412.47" y="558" font-size="9.78">)</text>
<g class="r" transform="rotate(-90 263.3 463.05)"><text transform="rotate(0.03 216.48 463.05) scale(0.86 1)" x="251.71" y="463.05" font-size="10.6">F</text><text transform="rotate(0.03 216.48 463.05)" x="222.08 224.47 230.31 236.57 240.9 245.02" y="463.05" font-size="10.6">lux (m</text><text transform="rotate(0.03 216.48 463.05) scale(0.86 1)" x="295.63" y="463.05" font-size="10.6">J</text><text transform="rotate(0.03 216.48 463.05)" x="258.8 264.9 268.82 274.52 280.21 286.29" y="463.05" font-size="10.6">y beam</text><text transform="rotate(0.03 216.48 463.05)" x="296.29 301.63" y="458.26" font-size="7.42" style="stroke-width:0.18px">−1</text><text transform="rotate(0.03 216.48 463.05)" x="306.2" y="463.05" font-size="10.6">)</text></g>
<text transform="rotate(0.03 304.85 409.8) scale(0.86 1)" x="354.56 357.86 365.79 373.24" y="409.8" font-size="10.72">IRAS</text><text transform="rotate(0.03 304.85 409.8)" x="328.64 333.14 339.75 346.36 352.96 359.57 367.6 375.94 382.55 389.15 395.76 403.25 408.01 412.34 419.13 426.97 433.44 436.94 443.55 450.15 457.01" y="409.8" font-size="10.72"> 20551−4250 (z=0.043)</text>
<text transform="rotate(0.03 403.3 421.5) scale(0.86 1)" x="469.39 477.82 485.94" y="421.5" font-size="10.72">HCO</text><text transform="rotate(0.03 403.3 421.5)" x="426.08" y="416.26" font-size="7.51" style="stroke-width:0.18px">+</text><text transform="rotate(0.03 403.3 421.5)" x="432.54 437.05 445.09 453.43" y="421.5" font-size="10.72"> 8−7</text></g>
<g><clipPath id="c9"><rect x="540.2" y="395.4" width="185.5" height="137.9"/></clipPath>
<line x1="540.2" y1="499.8" x2="725.7" y2="499.8" stroke="#aaa" stroke-width="0.8" stroke-dasharray="1.8 2.1"/>
<path d="M587.91 499.8V528.08H588.62V488.69H589.7V499.43H590.77V482.42H591.84V504.8H592.92V503.01H593.99V486H595.07V506.59H596.14V493.16H596.86V515.55H597.93V506.59H599.01V499.43H600.08V513.75H601.15V504.8H602.23V506.59H603.3V508.38H604.38V510.17H605.45V501.22H606.53V514.65H607.6V494.06H608.68V488.69H609.75V508.38H610.82V492.27H611.9V483.32H612.97V486H614.05V515.55H615.12V497.64H616.2V518.23H617.27V497.64H618.34V478.84H619.42V490.48H620.49V477.94H621.57V476.15H622.64V475.26H623.72V426.91H624.43V511.96H625.15V449.3H626.22V477.94H627.3V465.41H628.37V463.62H629.44V461.83H630.52V435.87H631.24V480.63H631.95V455.56H632.67V432.29H633.38V470.78H634.46V458.25H635.53V460.04H636.61V459.14H637.32V443.92H638.04V482.42H639.11V463.62H640.19V439.45H640.9V474.36H641.62V492.27H642.34V515.55H643.05V494.06H644.13V520.02H645.2V494.95H646.28V501.22H647.35V494.06H648.42V493.16H649.5V535.24H650.57V489.58H651.65V464.52H652.36V497.64H653.44V492.27H654.51V529.87H655.59V499.43H656.66V486H657.74V513.75H658.81V485.11H659.53V471.68H660.24V499.43H661.32V484.21H662.39V524.5H663.11V491.37H664.18V513.75H665.26V503.01H666.33V506.59H667.4V503.91H668.48V501.22H669.55V495.85H670.27V477.94H670.98V499.43H671.7V490.48H672.78V508.38H673.85V499.8" fill="none" stroke="#000" stroke-width="1.1" stroke-linejoin="miter" clip-path="url(#c9)"/>
<path d="M540.2 499.8L540.95 499.8L541.7 499.8L542.45 499.8L543.2 499.8L543.95 499.8L544.7 499.8L545.45 499.8L546.2 499.8L546.95 499.8L547.7 499.8L548.45 499.8L549.2 499.8L549.95 499.8L550.7 499.8L551.45 499.8L552.2 499.8L552.95 499.8L553.7 499.8L554.45 499.8L555.2 499.8L555.95 499.8L556.7 499.8L557.45 499.8L558.2 499.8L558.95 499.8L559.7 499.8L560.45 499.8L561.2 499.8L561.95 499.8L562.7 499.8L563.45 499.8L564.2 499.8L564.95 499.8L565.7 499.8L566.45 499.8L567.2 499.8L567.95 499.8L568.7 499.8L569.45 499.8L570.2 499.8L570.95 499.8L571.7 499.8L572.45 499.8L573.2 499.8L573.95 499.8L574.7 499.8L575.45 499.8L576.2 499.8L576.95 499.8L577.7 499.8L578.45 499.8L579.2 499.8L579.95 499.8L580.7 499.8L581.45 499.8L582.2 499.8L582.95 499.8L583.7 499.8L584.45 499.8L585.2 499.8L585.95 499.8L586.7 499.8L587.45 499.8L588.2 499.8L588.95 499.8L589.7 499.8L590.45 499.8L591.2 499.8L591.95 499.8L592.7 499.8L593.45 499.8L594.2 499.8L594.95 499.8L595.7 499.8L596.45 499.8L597.2 499.8L597.95 499.8L598.7 499.8L599.45 499.8L600.2 499.8L600.95 499.8L601.7 499.79L602.45 499.79L603.2 499.79L603.95 499.78L604.7 499.77L605.45 499.75L606.2 499.73L606.95 499.7L607.7 499.66L608.45 499.6L609.2 499.51L609.95 499.4L610.7 499.26L611.45 499.06L612.2 498.81L612.95 498.49L613.7 498.08L614.45 497.57L615.2 496.93L615.95 496.16L616.7 495.23L617.45 494.11L618.2 492.81L618.95 491.3L619.7 489.57L620.45 487.63L621.2 485.47L621.95 483.12L622.7 480.58L623.45 477.9L624.2 475.12L624.95 472.28L625.7 469.45L626.45 466.68L627.2 464.06L627.95 461.64L628.7 459.5L629.45 457.69L630.2 456.28L630.95 455.31L631.7 454.81L632.45 454.8L633.2 455.27L633.95 456.21L634.7 457.59L635.45 459.36L636.2 461.49L636.95 463.89L637.7 466.5L638.45 469.26L639.2 472.09L639.95 474.93L640.7 477.72L641.45 480.41L642.2 482.96L642.95 485.32L643.7 487.49L644.45 489.45L645.2 491.19L645.95 492.72L646.7 494.03L647.45 495.16L648.2 496.1L648.95 496.89L649.7 497.53L650.45 498.05L651.2 498.46L651.95 498.79L652.7 499.05L653.45 499.24L654.2 499.39L654.95 499.51L655.7 499.59L656.45 499.65L657.2 499.7L657.95 499.73L658.7 499.75L659.45 499.77L660.2 499.78L660.95 499.79L661.7 499.79L662.45 499.79L663.2 499.8L663.95 499.8L664.7 499.8L665.45 499.8L666.2 499.8L666.95 499.8L667.7 499.8L668.45 499.8L669.2 499.8L669.95 499.8L670.7 499.8L671.45 499.8L672.2 499.8L672.95 499.8L673.7 499.8L674.45 499.8L675.2 499.8L675.95 499.8L676.7 499.8L677.45 499.8L678.2 499.8L678.95 499.8L679.7 499.8L680.45 499.8L681.2 499.8L681.95 499.8L682.7 499.8L683.45 499.8L684.2 499.8L684.95 499.8L685.7 499.8L686.45 499.8L687.2 499.8L687.95 499.8L688.7 499.8L689.45 499.8L690.2 499.8L690.95 499.8L691.7 499.8L692.45 499.8L693.2 499.8L693.95 499.8L694.7 499.8L695.45 499.8L696.2 499.8L696.95 499.8L697.7 499.8L698.45 499.8L699.2 499.8L699.95 499.8L700.7 499.8L701.45 499.8L702.2 499.8L702.95 499.8L703.7 499.8L704.45 499.8L705.2 499.8L705.95 499.8L706.7 499.8L707.45 499.8L708.2 499.8L708.95 499.8L709.7 499.8L710.45 499.8L711.2 499.8L711.95 499.8L712.7 499.8L713.45 499.8L714.2 499.8L714.95 499.8L715.7 499.8L716.45 499.8L717.2 499.8L717.95 499.8L718.7 499.8L719.45 499.8L720.2 499.8L720.95 499.8L721.7 499.8L722.45 499.8L723.2 499.8L723.95 499.8L724.7 499.8L725.45 499.8" fill="none" stroke="#111" stroke-width="1.15" clip-path="url(#c9)"/>
<rect x="540.2" y="395.4" width="185.5" height="137.9" fill="none" stroke="#222" stroke-width="1.1"/>
<path d="M549.12 533.3v-2.5M549.12 395.4v2.5M559.47 533.3v-2.5M559.47 395.4v2.5M569.81 533.3v-2.5M569.81 395.4v2.5M580.15 533.3v-2.5M580.15 395.4v2.5M590.5 533.3v-4.8M590.5 395.4v4.8M600.85 533.3v-2.5M600.85 395.4v2.5M611.19 533.3v-2.5M611.19 395.4v2.5M621.53 533.3v-2.5M621.53 395.4v2.5M631.88 533.3v-2.5M631.88 395.4v2.5M642.23 533.3v-4.8M642.23 395.4v4.8M652.57 533.3v-2.5M652.57 395.4v2.5M662.91 533.3v-2.5M662.91 395.4v2.5M673.26 533.3v-2.5M673.26 395.4v2.5M683.61 533.3v-2.5M683.61 395.4v2.5M693.95 533.3v-4.8M693.95 395.4v4.8M704.29 533.3v-2.5M704.29 395.4v2.5M714.64 533.3v-2.5M714.64 395.4v2.5M540.2 531.09h2.5M725.7 531.09h-2.5M540.2 520.66h2.5M725.7 520.66h-2.5M540.2 510.23h2.5M725.7 510.23h-2.5M540.2 499.8h4.8M725.7 499.8h-4.8M540.2 489.37h2.5M725.7 489.37h-2.5M540.2 478.94h2.5M725.7 478.94h-2.5M540.2 468.51h2.5M725.7 468.51h-2.5M540.2 458.08h2.5M725.7 458.08h-2.5M540.2 447.65h4.8M725.7 447.65h-4.8M540.2 437.22h2.5M725.7 437.22h-2.5M540.2 426.79h2.5M725.7 426.79h-2.5M540.2 416.36h2.5M725.7 416.36h-2.5M540.2 405.93h2.5M725.7 405.93h-2.5" stroke="#222" stroke-width="0.9" fill="none"/>
<g class="r" transform="rotate(-90 534.3 499.8)"><text transform="rotate(0.03 531.21 499.8)" x="531.28" y="499.8" font-size="10.5">0</text></g>
<g class="r" transform="rotate(-90 534.3 447.65)"><text transform="rotate(0.03 528.22 447.65)" x="528.29 534.27" y="447.65" font-size="10.5">50</text></g>
<g class="r" transform="rotate(-90 534.3 395.5)"><text transform="rotate(0.03 525.23 395.5)" x="525.3 531.28 537.26" y="395.5" font-size="10.5">100</text></g>
<text transform="rotate(0.03 569.89 546.3)" x="570.16 576.03 579.19 585.16 591.07 597.24 603.22" y="546.3" font-size="9.78">1.25×10</text><text transform="rotate(0.03 569.89 546.3)" x="609.12" y="541.56" font-size="6.85" style="stroke-width:0.18px">4</text>
<text transform="rotate(0.03 624.6 546.3)" x="624.87 630.75 633.9 639.8 645.98 651.96" y="546.3" font-size="9.78">1.3×10</text><text transform="rotate(0.03 624.6 546.3)" x="657.85" y="541.56" font-size="6.85" style="stroke-width:0.18px">4</text>
<text transform="rotate(0.03 673.34 546.3)" x="673.61 679.48 682.64 688.61 694.52 700.69 706.67" y="546.3" font-size="9.78">1.35×10</text><text transform="rotate(0.03 673.34 546.3)" x="712.57" y="541.56" font-size="6.85" style="stroke-width:0.18px">4</text>
<text transform="rotate(0.03 603.37 558)" x="603.37" y="558" font-size="9.78">v</text><text transform="rotate(0.03 603.37 558)" x="608.39 612.68 617.18" y="561.97" font-size="7.24" style="stroke-width:0.18px">opt</text><text transform="rotate(0.03 603.37 558)" x="620.62 624.93 628.83 634.38 644.11 648.05" y="558" font-size="9.78"> (km s</text><text transform="rotate(0.03 603.37 558)" x="654.19 659.47" y="553.26" font-size="6.85" style="stroke-width:0.18px">−1</text><text transform="rotate(0.03 603.37 558)" x="663.97" y="558" font-size="9.78">)</text>
<g class="r" transform="rotate(-90 514.8 463.05)"><text transform="rotate(0.03 467.98 463.05) scale(0.86 1)" x="544.15" y="463.05" font-size="10.6">F</text><text transform="rotate(0.03 467.98 463.05)" x="473.58 475.97 481.81 488.07 492.4 496.52" y="463.05" font-size="10.6">lux (m</text><text transform="rotate(0.03 467.98 463.05) scale(0.86 1)" x="588.07" y="463.05" font-size="10.6">J</text><text transform="rotate(0.03 467.98 463.05)" x="510.3 516.4 520.32 526.02 531.71 537.79" y="463.05" font-size="10.6">y beam</text><text transform="rotate(0.03 467.98 463.05)" x="547.79 553.13" y="458.26" font-size="7.42" style="stroke-width:0.18px">−1</text><text transform="rotate(0.03 467.98 463.05)" x="557.7" y="463.05" font-size="10.6">)</text></g>
<text transform="rotate(0.03 556.85 407.1) scale(0.86 1)" x="647.58 650.88 658.82 666.26" y="407.1" font-size="10.72">IRAS</text><text transform="rotate(0.03 556.85 407.1)" x="580.64 585.14 591.75 598.36 604.96 611.57 619.6 627.94 634.55 641.15 647.76 655.25 660.01 664.34 671.13 678.97 685.44 688.94 695.55 702.15 709.01" y="407.1" font-size="10.72"> 20551−4250 (z=0.043)</text>
<text transform="rotate(0.03 657.6 419.8) scale(0.86 1)" x="765.09 773.71 782.14" y="419.8" font-size="10.72">HNC</text><text transform="rotate(0.03 657.6 419.8)" x="680.71 685.22 693.26 701.6" y="419.8" font-size="10.72"> 8−7</text></g>
<g><clipPath id="c10"><rect x="36.8" y="589.9" width="185.5" height="137.4"/></clipPath>
<line x1="36.8" y1="676.7" x2="222.3" y2="676.7" stroke="#aaa" stroke-width="0.8" stroke-dasharray="1.8 2.1"/>
<path d="M60.23 676.7V667.47H61.31V677.32H61.84V697.01H62.56V657.62H63.28V673.74H64.35V671.94H65.43V688.95H66.5V665.68H67.57V675.53H68.65V637.03H69.72V675.53H70.44V644.19H71.51V634.34H72.59V613.75H74.74V637.03H75.81V646.88H76.53V586.9H78.32V601.22H79.03V586.9H81.18V601.22H81.9V586.9H86.91V598.53H87.99V586.9H89.24V610.17H90.31V598.53H91.39V633.45H92.46V639.72H93.54V625.39H94.61V626.29H95.68V686.27H96.76V695.22H97.83V664.78H98.91V662.99H99.62V648.67H100.34V679.11H101.41V693.43H102.49V682.69H103.56V653.14H104.64V688.06H105.71V691.64H106.79V665.68H107.86V669.26H108.93V686.27H110.01V680.9H111.08V668.36H111.8V700.59H112.52V665.68H113.59V680.9H114.66V671.05H115.74V697.01H116.81V677.32H117.89V680.9H118.96V679.11H120.04V659.41H121.11V689.85H122.18V717.6H123.26V657.62H124.33V683.58H125.41V671.94H126.48V664.78H127.56V651.35H128.63V654.04H129.7V656.73H130.78V659.41H131.85V662.1H132.93V664.78H134V666.57H135.08V669.26H136.15V671.94H137.22V700.59H137.94V658.52H139.02V691.64H140.09V683.58H141.16V693.43H142.24V710.44H143.31V657.62H144.03V702.38H145.1V689.85H146.18V690.74H146.89V649.56H147.61V676.7" fill="none" stroke="#000" stroke-width="1.1" stroke-linejoin="miter" clip-path="url(#c10)"/>
<path d="M36.8 676.7L37.55 676.7L38.3 676.7L39.05 676.7L39.8 676.7L40.55 676.7L41.3 676.7L42.05 676.7L42.8 676.7L43.55 676.7L44.3 676.7L45.05 676.7L45.8 676.7L46.55 676.7L47.3 676.7L48.05 676.7L48.8 676.7L49.55 676.7L50.3 676.7L51.05 676.7L51.8 676.7L52.55 676.7L53.3 676.7L54.05 676.7L54.8 676.7L55.55 676.7L56.3 676.7L57.05 676.7L57.8 676.7L58.55 676.7L59.3 676.7L60.05 676.7L60.8 676.7L61.55 676.7L62.3 676.7L63.05 676.7L63.8 676.7L64.55 676.7L65.3 676.7L66.05 676.7L66.8 676.7L67.55 676.7L68.3 676.7L69.05 676.7L69.8 676.7L70.55 676.7L71.3 676.7L72.05 676.7L72.8 676.7L73.55 676.7L74.3 676.7L75.05 676.7L75.8 676.7L76.55 676.7L77.3 676.7L78.05 676.7L78.8 676.7L79.55 676.7L80.3 676.7L81.05 676.7L81.8 676.7L82.55 676.7L83.3 676.7L84.05 676.7L84.8 676.7L85.55 676.7L86.3 676.7L87.05 676.7L87.8 676.7L88.55 676.7L89.3 676.7L90.05 676.7L90.8 676.7L91.55 676.7L92.3 676.7L93.05 676.7L93.8 676.7L94.55 676.7L95.3 676.7L96.05 676.7L96.8 676.7L97.55 676.7L98.3 676.7L99.05 676.7L99.8 676.7L100.55 676.7L101.3 676.7L102.05 676.7L102.8 676.7L103.55 676.7L104.3 676.7L105.05 676.7L105.8 676.7L106.55 676.7L107.3 676.7L108.05 676.7L108.8 676.7L109.55 676.7L110.3 676.7L111.05 676.7L111.8 676.7L112.55 676.7L113.3 676.7L114.05 676.7L114.8 676.7L115.55 676.7L116.3 676.69L117.05 676.68L117.8 676.65L118.55 676.59L119.3 676.47L120.05 676.26L120.8 675.9L121.55 675.3L122.3 674.39L123.05 673.05L123.8 671.22L124.55 668.86L125.3 666.01L126.05 662.82L126.8 659.53L127.55 656.48L128.3 654.01L129.05 652.45L129.8 652.01L130.55 652.76L131.3 654.59L132.05 657.25L132.8 660.4L133.55 663.69L134.3 666.81L135.05 669.54L135.8 671.76L136.55 673.45L137.3 674.67L138.05 675.49L138.8 676.01L139.55 676.33L140.3 676.51L141.05 676.61L141.8 676.66L142.55 676.68L143.3 676.69L144.05 676.7L144.8 676.7L145.55 676.7L146.3 676.7L147.05 676.7L147.8 676.7L148.55 676.7L149.3 676.7L150.05 676.7L150.8 676.7L151.55 676.7L152.3 676.7L153.05 676.7L153.8 676.7L154.55 676.7L155.3 676.7L156.05 676.7L156.8 676.7L157.55 676.7L158.3 676.7L159.05 676.7L159.8 676.7L160.55 676.7L161.3 676.7L162.05 676.7L162.8 676.7L163.55 676.7L164.3 676.7L165.05 676.7L165.8 676.7L166.55 676.7L167.3 676.7L168.05 676.7L168.8 676.7L169.55 676.7L170.3 676.7L171.05 676.7L171.8 676.7L172.55 676.7L173.3 676.7L174.05 676.7L174.8 676.7L175.55 676.7L176.3 676.7L177.05 676.7L177.8 676.7L178.55 676.7L179.3 676.7L180.05 676.7L180.8 676.7L181.55 676.7L182.3 676.7L183.05 676.7L183.8 676.7L184.55 676.7L185.3 676.7L186.05 676.7L186.8 676.7L187.55 676.7L188.3 676.7L189.05 676.7L189.8 676.7L190.55 676.7L191.3 676.7L192.05 676.7L192.8 676.7L193.55 676.7L194.3 676.7L195.05 676.7L195.8 676.7L196.55 676.7L197.3 676.7L198.05 676.7L198.8 676.7L199.55 676.7L200.3 676.7L201.05 676.7L201.8 676.7L202.55 676.7L203.3 676.7L204.05 676.7L204.8 676.7L205.55 676.7L206.3 676.7L207.05 676.7L207.8 676.7L208.55 676.7L209.3 676.7L210.05 676.7L210.8 676.7L211.55 676.7L212.3 676.7L213.05 676.7L213.8 676.7L214.55 676.7L215.3 676.7L216.05 676.7L216.8 676.7L217.55 676.7L218.3 676.7L219.05 676.7L219.8 676.7L220.55 676.7L221.3 676.7L222.05 676.7" fill="none" stroke="#111" stroke-width="1.15" clip-path="url(#c10)"/>
<rect x="36.8" y="589.9" width="185.5" height="137.4" fill="none" stroke="#222" stroke-width="1.1"/>
<path d="M45.72 727.3v-2.5M45.72 589.9v2.5M56.06 727.3v-2.5M56.06 589.9v2.5M66.41 727.3v-2.5M66.41 589.9v2.5M76.75 727.3v-2.5M76.75 589.9v2.5M87.1 727.3v-4.8M87.1 589.9v4.8M97.44 727.3v-2.5M97.44 589.9v2.5M107.79 727.3v-2.5M107.79 589.9v2.5M118.13 727.3v-2.5M118.13 589.9v2.5M128.48 727.3v-2.5M128.48 589.9v2.5M138.82 727.3v-4.8M138.82 589.9v4.8M149.17 727.3v-2.5M149.17 589.9v2.5M159.51 727.3v-2.5M159.51 589.9v2.5M169.86 727.3v-2.5M169.86 589.9v2.5M180.2 727.3v-2.5M180.2 589.9v2.5M190.55 727.3v-4.8M190.55 589.9v4.8M200.89 727.3v-2.5M200.89 589.9v2.5M211.24 727.3v-2.5M211.24 589.9v2.5M36.8 720.29h2.5M222.3 720.29h-2.5M36.8 705.76h4.8M222.3 705.76h-4.8M36.8 691.23h2.5M222.3 691.23h-2.5M36.8 676.7h4.8M222.3 676.7h-4.8M36.8 662.17h2.5M222.3 662.17h-2.5M36.8 647.64h4.8M222.3 647.64h-4.8M36.8 633.11h2.5M222.3 633.11h-2.5M36.8 618.58h4.8M222.3 618.58h-4.8M36.8 604.05h2.5M222.3 604.05h-2.5" stroke="#222" stroke-width="0.9" fill="none"/>
<g class="r" transform="rotate(-90 30.9 705.76)"><text transform="rotate(0.03 20.4 705.76)" x="21.76 29.31 35.29" y="705.76" font-size="10.5">−20</text></g>
<g class="r" transform="rotate(-90 30.9 676.7)"><text transform="rotate(0.03 27.81 676.7)" x="27.88" y="676.7" font-size="10.5">0</text></g>
<g class="r" transform="rotate(-90 30.9 647.64)"><text transform="rotate(0.03 24.82 647.64)" x="24.89 30.87" y="647.64" font-size="10.5">20</text></g>
<g class="r" transform="rotate(-90 30.9 618.58)"><text transform="rotate(0.03 24.82 618.58)" x="24.89 30.87" y="618.58" font-size="10.5">40</text></g>
<g class="r" transform="rotate(-90 30.9 589.52)"><text transform="rotate(0.03 24.82 589.52)" x="24.89 30.87" y="589.52" font-size="10.5">60</text></g>
<text transform="rotate(0.03 66.49 740.3)" x="66.76 72.63 75.79 81.76 87.67 93.84 99.82" y="740.3" font-size="9.78">1.25×10</text><text transform="rotate(0.03 66.49 740.3)" x="105.72" y="735.56" font-size="6.85" style="stroke-width:0.18px">4</text>
<text transform="rotate(0.03 121.2 740.3)" x="121.47 127.35 130.5 136.4 142.58 148.56" y="740.3" font-size="9.78">1.3×10</text><text transform="rotate(0.03 121.2 740.3)" x="154.45" y="735.56" font-size="6.85" style="stroke-width:0.18px">4</text>
<text transform="rotate(0.03 169.94 740.3)" x="170.21 176.08 179.24 185.21 191.12 197.29 203.27" y="740.3" font-size="9.78">1.35×10</text><text transform="rotate(0.03 169.94 740.3)" x="209.17" y="735.56" font-size="6.85" style="stroke-width:0.18px">4</text>
<text transform="rotate(0.03 99.97 752)" x="99.97" y="752" font-size="9.78">v</text><text transform="rotate(0.03 99.97 752)" x="104.99 109.28 113.78" y="755.97" font-size="7.24" style="stroke-width:0.18px">opt</text><text transform="rotate(0.03 99.97 752)" x="117.22 121.53 125.43 130.98 140.71 144.65" y="752" font-size="9.78"> (km s</text><text transform="rotate(0.03 99.97 752)" x="150.79 156.07" y="747.26" font-size="6.85" style="stroke-width:0.18px">−1</text><text transform="rotate(0.03 99.97 752)" x="160.57" y="752" font-size="9.78">)</text>
<g class="r" transform="rotate(-90 11.4 657.3)"><text transform="rotate(0.03 -35.42 657.3) scale(0.86 1)" x="-41.2" y="657.3" font-size="10.6">F</text><text transform="rotate(0.03 -35.42 657.3)" x="-29.82 -27.43 -21.59 -15.33 -11 -6.88" y="657.3" font-size="10.6">lux (m</text><text transform="rotate(0.03 -35.42 657.3) scale(0.86 1)" x="2.72" y="657.3" font-size="10.6">J</text><text transform="rotate(0.03 -35.42 657.3)" x="6.9 13 16.92 22.62 28.31 34.39" y="657.3" font-size="10.6">y beam</text><text transform="rotate(0.03 -35.42 657.3)" x="44.39 49.73" y="652.51" font-size="7.42" style="stroke-width:0.18px">−1</text><text transform="rotate(0.03 -35.42 657.3)" x="54.3" y="657.3" font-size="10.6">)</text></g>
<text transform="rotate(0.03 54.45 601.7) scale(0.86 1)" x="63.39 66.69 74.63 82.08" y="601.7" font-size="10.72">IRAS</text><text transform="rotate(0.03 54.45 601.7)" x="78.24 82.74 89.35 95.96 102.56 109.17 117.2 125.54 132.15 138.75 145.36 152.85 157.61 161.94 168.73 176.57 183.04 186.54 193.15 199.75 206.61" y="601.7" font-size="10.72"> 20551−4250 (z=0.043)</text>
<text transform="rotate(0.03 127.6 615) scale(0.86 1)" x="148.81 157.24 165.66" y="615" font-size="10.72">HCN</text><text transform="rotate(0.03 127.6 615)" x="150.71 155.22 163.26 171.6" y="615" font-size="10.72"> 8−7</text><text transform="rotate(0.03 127.6 615)" x="179.09 183.29" y="615" font-size="10.72"> v</text><text transform="rotate(0.03 127.6 615)" x="188.9" y="619.39" font-size="7.93" style="stroke-width:0.18px">2</text><text transform="rotate(0.03 127.6 615)" x="194.8 202.64 209.44" y="615" font-size="10.72">=1f</text></g>
<g><clipPath id="c11"><rect x="288.7" y="589.9" width="185.5" height="137.4"/></clipPath>
<line x1="288.7" y1="670.8" x2="474.2" y2="670.8" stroke="#aaa" stroke-width="0.8" stroke-dasharray="1.8 2.1"/>
<path d="M336.71 670.8V675.53H337.42V682.69H338.5V698.8H339.57V659.41H340.64V654.93H341.72V660.31H342.44V699.7H343.15V589.58H344.23V695.22H345.3V689.85H346.02V676.42H346.73V698.8H347.81V678.21H348.88V700.59H349.96V686.27H350.67V655.83H351.75V705.07H352.82V718.5H353.89V697.01H354.97V709.55H356.04V693.43H357.12V662.99H357.83V652.25H358.91V657.62H359.62V647.77H360.34V662.99H361.41V661.2H362.49V653.14H363.56V703.28H364.64V689.85H365.71V648.67H366.79V654.93H367.86V675.53H368.93V677.32H370.01V673.74H371.08V700.59H372.16V670.15H373.23V657.62H374.31V645.98H375.38V624.5H376.45V633.45H377.53V691.64H378.6V654.04H379.68V657.62H380.75V659.41H381.47V647.77H382.18V693.43H382.9V653.14H383.97V662.99H385.05V664.78H386.12V662.99H387.2V675.53H388.27V668.36H389.35V698.8H390.42V711.34H391.14V665.68H392.21V679.11H393.29V666.57H394.36V680.9H395.43V638.82H396.51V662.99H397.58V635.24H398.66V657.62H399.73V686.27H400.81V676.42H401.88V635.24H402.95V666.57H404.03V651.35H405.1V652.25H406.18V653.14H407.25V664.78H408.33V666.57H409.4V691.64H410.47V694.33H411.19V654.04H411.91V695.22H412.98V693.43H413.7V648.67H414.77V694.33H415.85V673.74H416.92V688.06H417.64V642.4H418.71V679.11H419.79V698.8H420.86V679.11H421.93V648.67H422.65V670.8" fill="none" stroke="#000" stroke-width="1.1" stroke-linejoin="miter" clip-path="url(#c11)"/>
<path d="M288.7 670.8L289.45 670.8L290.2 670.8L290.95 670.8L291.7 670.8L292.45 670.8L293.2 670.8L293.95 670.8L294.7 670.8L295.45 670.8L296.2 670.8L296.95 670.8L297.7 670.8L298.45 670.8L299.2 670.8L299.95 670.8L300.7 670.8L301.45 670.8L302.2 670.8L302.95 670.8L303.7 670.8L304.45 670.8L305.2 670.8L305.95 670.8L306.7 670.8L307.45 670.8L308.2 670.8L308.95 670.8L309.7 670.8L310.45 670.8L311.2 670.8L311.95 670.8L312.7 670.8L313.45 670.8L314.2 670.8L314.95 670.8L315.7 670.8L316.45 670.8L317.2 670.8L317.95 670.8L318.7 670.8L319.45 670.8L320.2 670.8L320.95 670.8L321.7 670.8L322.45 670.8L323.2 670.8L323.95 670.8L324.7 670.8L325.45 670.8L326.2 670.8L326.95 670.8L327.7 670.8L328.45 670.8L329.2 670.8L329.95 670.8L330.7 670.8L331.45 670.8L332.2 670.8L332.95 670.8L333.7 670.8L334.45 670.8L335.2 670.8L335.95 670.8L336.7 670.8L337.45 670.8L338.2 670.8L338.95 670.8L339.7 670.8L340.45 670.8L341.2 670.8L341.95 670.8L342.7 670.8L343.45 670.8L344.2 670.8L344.95 670.8L345.7 670.8L346.45 670.8L347.2 670.8L347.95 670.8L348.7 670.8L349.45 670.8L350.2 670.8L350.95 670.8L351.7 670.8L352.45 670.8L353.2 670.8L353.95 670.8L354.7 670.8L355.45 670.8L356.2 670.8L356.95 670.8L357.7 670.8L358.45 670.8L359.2 670.8L359.95 670.8L360.7 670.8L361.45 670.8L362.2 670.8L362.95 670.8L363.7 670.79L364.45 670.78L365.2 670.76L365.95 670.71L366.7 670.63L367.45 670.47L368.2 670.22L368.95 669.81L369.7 669.18L370.45 668.28L371.2 667.06L371.95 665.49L372.7 663.6L373.45 661.48L374.2 659.27L374.95 657.17L375.7 655.42L376.45 654.22L377.2 653.73L377.95 654.02L378.7 655.04L379.45 656.66L380.2 658.69L380.95 660.89L381.7 663.05L382.45 665.02L383.2 666.68L383.95 667.99L384.7 668.97L385.45 669.67L386.2 670.13L386.95 670.42L387.7 670.59L388.45 670.69L389.2 670.75L389.95 670.78L390.7 670.79L391.45 670.8L392.2 670.8L392.95 670.8L393.7 670.8L394.45 670.8L395.2 670.8L395.95 670.8L396.7 670.8L397.45 670.8L398.2 670.8L398.95 670.8L399.7 670.8L400.45 670.8L401.2 670.8L401.95 670.8L402.7 670.8L403.45 670.8L404.2 670.8L404.95 670.8L405.7 670.8L406.45 670.8L407.2 670.8L407.95 670.8L408.7 670.8L409.45 670.8L410.2 670.8L410.95 670.8L411.7 670.8L412.45 670.8L413.2 670.8L413.95 670.8L414.7 670.8L415.45 670.8L416.2 670.8L416.95 670.8L417.7 670.8L418.45 670.8L419.2 670.8L419.95 670.8L420.7 670.8L421.45 670.8L422.2 670.8L422.95 670.8L423.7 670.8L424.45 670.8L425.2 670.8L425.95 670.8L426.7 670.8L427.45 670.8L428.2 670.8L428.95 670.8L429.7 670.8L430.45 670.8L431.2 670.8L431.95 670.8L432.7 670.8L433.45 670.8L434.2 670.8L434.95 670.8L435.7 670.8L436.45 670.8L437.2 670.8L437.95 670.8L438.7 670.8L439.45 670.8L440.2 670.8L440.95 670.8L441.7 670.8L442.45 670.8L443.2 670.8L443.95 670.8L444.7 670.8L445.45 670.8L446.2 670.8L446.95 670.8L447.7 670.8L448.45 670.8L449.2 670.8L449.95 670.8L450.7 670.8L451.45 670.8L452.2 670.8L452.95 670.8L453.7 670.8L454.45 670.8L455.2 670.8L455.95 670.8L456.7 670.8L457.45 670.8L458.2 670.8L458.95 670.8L459.7 670.8L460.45 670.8L461.2 670.8L461.95 670.8L462.7 670.8L463.45 670.8L464.2 670.8L464.95 670.8L465.7 670.8L466.45 670.8L467.2 670.8L467.95 670.8L468.7 670.8L469.45 670.8L470.2 670.8L470.95 670.8L471.7 670.8L472.45 670.8L473.2 670.8L473.95 670.8" fill="none" stroke="#111" stroke-width="1.15" clip-path="url(#c11)"/>
<rect x="288.7" y="589.9" width="185.5" height="137.4" fill="none" stroke="#222" stroke-width="1.1"/>
<path d="M297.62 727.3v-2.5M297.62 589.9v2.5M307.96 727.3v-2.5M307.96 589.9v2.5M318.31 727.3v-2.5M318.31 589.9v2.5M328.65 727.3v-2.5M328.65 589.9v2.5M339 727.3v-4.8M339 589.9v4.8M349.35 727.3v-2.5M349.35 589.9v2.5M359.69 727.3v-2.5M359.69 589.9v2.5M370.04 727.3v-2.5M370.04 589.9v2.5M380.38 727.3v-2.5M380.38 589.9v2.5M390.73 727.3v-4.8M390.73 589.9v4.8M401.07 727.3v-2.5M401.07 589.9v2.5M411.42 727.3v-2.5M411.42 589.9v2.5M421.76 727.3v-2.5M421.76 589.9v2.5M432.11 727.3v-2.5M432.11 589.9v2.5M442.45 727.3v-4.8M442.45 589.9v4.8M452.8 727.3v-2.5M452.8 589.9v2.5M463.14 727.3v-2.5M463.14 589.9v2.5M288.7 719.58h2.5M474.2 719.58h-2.5M288.7 703.32h4.8M474.2 703.32h-4.8M288.7 687.06h2.5M474.2 687.06h-2.5M288.7 670.8h4.8M474.2 670.8h-4.8M288.7 654.54h2.5M474.2 654.54h-2.5M288.7 638.28h4.8M474.2 638.28h-4.8M288.7 622.02h2.5M474.2 622.02h-2.5M288.7 605.76h4.8M474.2 605.76h-4.8" stroke="#222" stroke-width="0.9" fill="none"/>
<g class="r" transform="rotate(-90 282.8 703.32)"><text transform="rotate(0.03 272.3 703.32)" x="273.66 281.21 287.19" y="703.32" font-size="10.5">−20</text></g>
<g class="r" transform="rotate(-90 282.8 670.8)"><text transform="rotate(0.03 279.71 670.8)" x="279.78" y="670.8" font-size="10.5">0</text></g>
<g class="r" transform="rotate(-90 282.8 638.28)"><text transform="rotate(0.03 276.72 638.28)" x="276.79 282.77" y="638.28" font-size="10.5">20</text></g>
<g class="r" transform="rotate(-90 282.8 605.76)"><text transform="rotate(0.03 276.72 605.76)" x="276.79 282.77" y="605.76" font-size="10.5">40</text></g>
<text transform="rotate(0.03 318.39 740.3)" x="318.66 324.53 327.69 333.66 339.57 345.74 351.72" y="740.3" font-size="9.78">1.25×10</text><text transform="rotate(0.03 318.39 740.3)" x="357.62" y="735.56" font-size="6.85" style="stroke-width:0.18px">4</text>
<text transform="rotate(0.03 373.1 740.3)" x="373.37 379.25 382.4 388.3 394.48 400.46" y="740.3" font-size="9.78">1.3×10</text><text transform="rotate(0.03 373.1 740.3)" x="406.35" y="735.56" font-size="6.85" style="stroke-width:0.18px">4</text>
<text transform="rotate(0.03 421.84 740.3)" x="422.11 427.98 431.14 437.11 443.02 449.19 455.17" y="740.3" font-size="9.78">1.35×10</text><text transform="rotate(0.03 421.84 740.3)" x="461.07" y="735.56" font-size="6.85" style="stroke-width:0.18px">4</text>
<text transform="rotate(0.03 351.87 752)" x="351.87" y="752" font-size="9.78">v</text><text transform="rotate(0.03 351.87 752)" x="356.89 361.18 365.68" y="755.97" font-size="7.24" style="stroke-width:0.18px">opt</text><text transform="rotate(0.03 351.87 752)" x="369.12 373.43 377.33 382.88 392.61 396.55" y="752" font-size="9.78"> (km s</text><text transform="rotate(0.03 351.87 752)" x="402.69 407.97" y="747.26" font-size="6.85" style="stroke-width:0.18px">−1</text><text transform="rotate(0.03 351.87 752)" x="412.47" y="752" font-size="9.78">)</text>
<g class="r" transform="rotate(-90 263.3 657.3)"><text transform="rotate(0.03 216.48 657.3) scale(0.86 1)" x="251.71" y="657.3" font-size="10.6">F</text><text transform="rotate(0.03 216.48 657.3)" x="222.08 224.47 230.31 236.57 240.9 245.02" y="657.3" font-size="10.6">lux (m</text><text transform="rotate(0.03 216.48 657.3) scale(0.86 1)" x="295.63" y="657.3" font-size="10.6">J</text><text transform="rotate(0.03 216.48 657.3)" x="258.8 264.9 268.82 274.52 280.21 286.29" y="657.3" font-size="10.6">y beam</text><text transform="rotate(0.03 216.48 657.3)" x="296.29 301.63" y="652.51" font-size="7.42" style="stroke-width:0.18px">−1</text><text transform="rotate(0.03 216.48 657.3)" x="306.2" y="657.3" font-size="10.6">)</text></g>
<text transform="rotate(0.03 305.85 601.4) scale(0.86 1)" x="355.72 359.02 366.96 374.4" y="601.4" font-size="10.72">IRAS</text><text transform="rotate(0.03 305.85 601.4)" x="329.64 334.14 340.75 347.36 353.96 360.57 368.6 376.94 383.55 390.15 396.76 404.25 409.01 413.34 420.13 427.97 434.44 437.94 444.55 451.15 458.01" y="601.4" font-size="10.72"> 20551−4250 (z=0.043)</text>
<text transform="rotate(0.03 379.9 613.5) scale(0.86 1)" x="442.18 450.8 459.23" y="613.5" font-size="10.72">HNC</text><text transform="rotate(0.03 379.9 613.5)" x="403.01 407.52 415.56 423.9" y="613.5" font-size="10.72"> 8−7</text><text transform="rotate(0.03 379.9 613.5)" x="431.39 435.59" y="613.5" font-size="10.72"> v</text><text transform="rotate(0.03 379.9 613.5)" x="441.2" y="617.89" font-size="7.93" style="stroke-width:0.18px">2</text><text transform="rotate(0.03 379.9 613.5)" x="447.1 454.94 461.74" y="613.5" font-size="10.72">=1f</text></g>
<g><clipPath id="c12"><rect x="540.2" y="589.9" width="185.5" height="137.4"/></clipPath>
<line x1="540.2" y1="716.9" x2="725.7" y2="716.9" stroke="#aaa" stroke-width="0.8" stroke-dasharray="1.8 2.1"/>
<path d="M539.93 711.65H543.85V715.58H547.78V717.68H551.71V716.89H555.63V714.27H559.56V716.89H563.49V717.68H567.41V714.8H571.34V719.51H575.27V722.13H579.19V722.65H583.12V716.1H587.05V722.13H590.97V716.1H594.9V719.51H598.83V718.98H602.75V716.37H606.68V714.27H609.3V703.8H613.23V693.33H617.15V677.1H621.08V653.54H625.01V632.6H628.93V635.74H632.86V629.19H636.79V650.14H639.93V684.17H642.96V708.72H647.11V706.35H650.9V714.29H654.45V710.38H658.36V717.49H661.92V714.64H665.47V716.3H672.58V715.47H676.14V717.01H680.28V719.03H683.84V714.29H687.39V719.62H691.54V712.75H695.09V715.83H698.89V717.49H706.35V712.75H709.91V721.04H713.7V715.12H717.61V725.31H721.52V716.3H727" fill="none" stroke="#000" stroke-width="1.0" stroke-linejoin="miter" clip-path="url(#c12)"/>
<path d="M540.2 716.9L540.95 716.9L541.7 716.9L542.45 716.9L543.2 716.9L543.95 716.9L544.7 716.9L545.45 716.9L546.2 716.9L546.95 716.9L547.7 716.9L548.45 716.9L549.2 716.9L549.95 716.9L550.7 716.9L551.45 716.9L552.2 716.9L552.95 716.9L553.7 716.9L554.45 716.9L555.2 716.9L555.95 716.9L556.7 716.9L557.45 716.9L558.2 716.9L558.95 716.9L559.7 716.9L560.45 716.9L561.2 716.9L561.95 716.9L562.7 716.9L563.45 716.9L564.2 716.9L564.95 716.9L565.7 716.9L566.45 716.9L567.2 716.9L567.95 716.9L568.7 716.9L569.45 716.9L570.2 716.9L570.95 716.9L571.7 716.9L572.45 716.9L573.2 716.9L573.95 716.9L574.7 716.9L575.45 716.9L576.2 716.9L576.95 716.9L577.7 716.9L578.45 716.9L579.2 716.9L579.95 716.9L580.7 716.9L581.45 716.9L582.2 716.9L582.95 716.9L583.7 716.9L584.45 716.9L585.2 716.9L585.95 716.9L586.7 716.9L587.45 716.9L588.2 716.9L588.95 716.9L589.7 716.9L590.45 716.9L591.2 716.9L591.95 716.89L592.7 716.89L593.45 716.89L594.2 716.88L594.95 716.88L595.7 716.87L596.45 716.86L597.2 716.84L597.95 716.81L598.7 716.78L599.45 716.74L600.2 716.68L600.95 716.6L601.7 716.5L602.45 716.37L603.2 716.2L603.95 715.99L604.7 715.72L605.45 715.38L606.2 714.96L606.95 714.44L607.7 713.8L608.45 713.03L609.2 712.1L609.95 711L610.7 709.69L611.45 708.17L612.2 706.4L612.95 704.37L613.7 702.07L614.45 699.47L615.2 696.57L615.95 693.37L616.7 689.86L617.45 686.08L618.2 682.03L618.95 677.74L619.7 673.27L620.45 668.65L621.2 663.94L621.95 659.22L622.7 654.55L623.45 650.02L624.2 645.69L624.95 641.67L625.7 638.01L626.45 634.81L627.2 632.12L627.95 630.01L628.7 628.53L629.45 627.69L630.2 627.53L630.95 628.05L631.7 629.24L632.45 631.06L633.2 633.49L633.95 636.46L634.7 639.91L635.45 643.77L636.2 647.97L636.95 652.41L637.7 657.03L638.45 661.74L639.2 666.46L639.95 671.13L640.7 675.68L641.45 680.06L642.2 684.22L642.95 688.13L643.7 691.77L644.45 695.11L645.2 698.15L645.95 700.89L646.7 703.33L647.45 705.49L648.2 707.38L648.95 709.01L649.7 710.42L650.45 711.61L651.2 712.62L651.95 713.46L652.7 714.16L653.45 714.73L654.2 715.19L654.95 715.57L655.7 715.87L656.45 716.11L657.2 716.3L657.95 716.45L658.7 716.56L659.45 716.65L660.2 716.71L660.95 716.76L661.7 716.8L662.45 716.83L663.2 716.85L663.95 716.86L664.7 716.87L665.45 716.88L666.2 716.89L666.95 716.89L667.7 716.89L668.45 716.9L669.2 716.9L669.95 716.9L670.7 716.9L671.45 716.9L672.2 716.9L672.95 716.9L673.7 716.9L674.45 716.9L675.2 716.9L675.95 716.9L676.7 716.9L677.45 716.9L678.2 716.9L678.95 716.9L679.7 716.9L680.45 716.9L681.2 716.9L681.95 716.9L682.7 716.9L683.45 716.9L684.2 716.9L684.95 716.9L685.7 716.9L686.45 716.9L687.2 716.9L687.95 716.9L688.7 716.9L689.45 716.9L690.2 716.9L690.95 716.9L691.7 716.9L692.45 716.9L693.2 716.9L693.95 716.9L694.7 716.9L695.45 716.9L696.2 716.9L696.95 716.9L697.7 716.9L698.45 716.9L699.2 716.9L699.95 716.9L700.7 716.9L701.45 716.9L702.2 716.9L702.95 716.9L703.7 716.9L704.45 716.9L705.2 716.9L705.95 716.9L706.7 716.9L707.45 716.9L708.2 716.9L708.95 716.9L709.7 716.9L710.45 716.9L711.2 716.9L711.95 716.9L712.7 716.9L713.45 716.9L714.2 716.9L714.95 716.9L715.7 716.9L716.45 716.9L717.2 716.9L717.95 716.9L718.7 716.9L719.45 716.9L720.2 716.9L720.95 716.9L721.7 716.9L722.45 716.9L723.2 716.9L723.95 716.9L724.7 716.9L725.45 716.9" fill="none" stroke="#111" stroke-width="1.12" clip-path="url(#c12)"/>
<rect x="540.2" y="589.9" width="185.5" height="137.4" fill="none" stroke="#222" stroke-width="1.1"/>
<path d="M549.12 727.3v-2.5M549.12 589.9v2.5M559.47 727.3v-2.5M559.47 589.9v2.5M569.81 727.3v-2.5M569.81 589.9v2.5M580.15 727.3v-2.5M580.15 589.9v2.5M590.5 727.3v-4.8M590.5 589.9v4.8M600.85 727.3v-2.5M600.85 589.9v2.5M611.19 727.3v-2.5M611.19 589.9v2.5M621.53 727.3v-2.5M621.53 589.9v2.5M631.88 727.3v-2.5M631.88 589.9v2.5M642.23 727.3v-4.8M642.23 589.9v4.8M652.57 727.3v-2.5M652.57 589.9v2.5M662.91 727.3v-2.5M662.91 589.9v2.5M673.26 727.3v-2.5M673.26 589.9v2.5M683.61 727.3v-2.5M683.61 589.9v2.5M693.95 727.3v-4.8M693.95 589.9v4.8M704.29 727.3v-2.5M704.29 589.9v2.5M714.64 727.3v-2.5M714.64 589.9v2.5M540.2 716.9h4.8M725.7 716.9h-4.8M540.2 704.13h2.5M725.7 704.13h-2.5M540.2 691.36h2.5M725.7 691.36h-2.5M540.2 678.59h2.5M725.7 678.59h-2.5M540.2 665.82h2.5M725.7 665.82h-2.5M540.2 653.05h4.8M725.7 653.05h-4.8M540.2 640.28h2.5M725.7 640.28h-2.5M540.2 627.51h2.5M725.7 627.51h-2.5M540.2 614.74h2.5M725.7 614.74h-2.5M540.2 601.97h2.5M725.7 601.97h-2.5" stroke="#222" stroke-width="0.9" fill="none"/>
<g class="r" transform="rotate(-90 534.3 716.9)"><text transform="rotate(0.03 531.21 716.9)" x="531.28" y="716.9" font-size="10.5">0</text></g>
<g class="r" transform="rotate(-90 534.3 653.05)"><text transform="rotate(0.03 531.21 653.05)" x="531.28" y="653.05" font-size="10.5">5</text></g>
<g class="r" transform="rotate(-90 534.3 589.2)"><text transform="rotate(0.03 528.22 589.2)" x="528.29 534.27" y="589.2" font-size="10.5">10</text></g>
<text transform="rotate(0.03 569.89 740.3)" x="570.16 576.03 579.19 585.16 591.07 597.24 603.22" y="740.3" font-size="9.78">1.25×10</text><text transform="rotate(0.03 569.89 740.3)" x="609.12" y="735.56" font-size="6.85" style="stroke-width:0.18px">4</text>
<text transform="rotate(0.03 624.6 740.3)" x="624.87 630.75 633.9 639.8 645.98 651.96" y="740.3" font-size="9.78">1.3×10</text><text transform="rotate(0.03 624.6 740.3)" x="657.85" y="735.56" font-size="6.85" style="stroke-width:0.18px">4</text>
<text transform="rotate(0.03 673.34 740.3)" x="673.61 679.48 682.64 688.61 694.52 700.69 706.67" y="740.3" font-size="9.78">1.35×10</text><text transform="rotate(0.03 673.34 740.3)" x="712.57" y="735.56" font-size="6.85" style="stroke-width:0.18px">4</text>
<text transform="rotate(0.03 603.37 752)" x="603.37" y="752" font-size="9.78">v</text><text transform="rotate(0.03 603.37 752)" x="608.39 612.68 617.18" y="755.97" font-size="7.24" style="stroke-width:0.18px">opt</text><text transform="rotate(0.03 603.37 752)" x="620.62 624.93 628.83 634.38 644.11 648.05" y="752" font-size="9.78"> (km s</text><text transform="rotate(0.03 603.37 752)" x="654.19 659.47" y="747.26" font-size="6.85" style="stroke-width:0.18px">−1</text><text transform="rotate(0.03 603.37 752)" x="663.97" y="752" font-size="9.78">)</text>
<g class="r" transform="rotate(-90 514.8 657.3)"><text transform="rotate(0.03 467.98 657.3) scale(0.86 1)" x="544.15" y="657.3" font-size="10.6">F</text><text transform="rotate(0.03 467.98 657.3)" x="473.58 475.97 481.81 488.07 492.4 496.52" y="657.3" font-size="10.6">lux (m</text><text transform="rotate(0.03 467.98 657.3) scale(0.86 1)" x="588.07" y="657.3" font-size="10.6">J</text><text transform="rotate(0.03 467.98 657.3)" x="510.3 516.4 520.32 526.02 531.71 537.79" y="657.3" font-size="10.6">y beam</text><text transform="rotate(0.03 467.98 657.3)" x="547.79 553.13" y="652.51" font-size="7.42" style="stroke-width:0.18px">−1</text><text transform="rotate(0.03 467.98 657.3)" x="557.7" y="657.3" font-size="10.6">)</text></g>
<text transform="rotate(0.03 557.15 603) scale(0.86 1)" x="647.93 651.23 659.17 666.61" y="603" font-size="10.72">IRAS</text><text transform="rotate(0.03 557.15 603)" x="580.94 585.44 592.05 598.66 605.26 611.87 619.9 628.24 634.85 641.45 648.06 655.55 660.31 664.64 671.43 679.27 685.74 689.24 695.85 702.45 709.31" y="603" font-size="10.72"> 20551−4250 (z=0.043)</text>
<text transform="rotate(0.03 658 618.7) scale(0.86 1)" x="765.56 773.98 782.41" y="618.7" font-size="10.72">HCN</text><text transform="rotate(0.03 658 618.7)" x="681.11 685.62 693.66 702" y="618.7" font-size="10.72"> 1−0</text></g>
<g><clipPath id="c13"><rect x="36.8" y="779.4" width="185.5" height="137.4"/></clipPath>
<line x1="36.8" y1="908.2" x2="222.3" y2="908.2" stroke="#aaa" stroke-width="0.8" stroke-dasharray="1.8 2.1"/>
<path d="M37.4 909.51H41.33V908.72H45.26V908.2H49.18V909.51H53.11V905.06H57.04V908.72H60.96V909.51H64.89V905.06H68.82V906.89H72.74V908.72H76.67V909.51H80.6V910.82H84.52V908.72H87.66V916.05H91.59V910.82H95.52V910.82H99.45V910.29H102.59V904.27H105.99V900.35H109.39V887.26H112.53V870.24H116.46V846.16H120.39V829.66H124.31V817.88H128.24V819.19H132.17V832.28H136.09V857.15H139.24V882.02H142.64V900.35H146.57V904.27H150.49V906.1H154.42V907.68H157.56V910.03H161.49V908.2H164.89V908.72H168.03V905.58H171.96V908.2H175.36V908.72H179.29V908.2H183.21V904.27H187.14V908.2H191.07V907.68H194.21V910.82H198.14V907.68H201.54V904.27H205.47V906.1H209.39V908.2H213.32V908.72H217.25V905.58H221.96" fill="none" stroke="#000" stroke-width="1.0" stroke-linejoin="miter" clip-path="url(#c13)"/>
<path d="M36.8 908.2L37.55 908.2L38.3 908.2L39.05 908.2L39.8 908.2L40.55 908.2L41.3 908.2L42.05 908.2L42.8 908.2L43.55 908.2L44.3 908.2L45.05 908.2L45.8 908.2L46.55 908.2L47.3 908.2L48.05 908.2L48.8 908.2L49.55 908.2L50.3 908.2L51.05 908.2L51.8 908.2L52.55 908.2L53.3 908.2L54.05 908.2L54.8 908.2L55.55 908.2L56.3 908.2L57.05 908.2L57.8 908.2L58.55 908.2L59.3 908.2L60.05 908.2L60.8 908.2L61.55 908.2L62.3 908.2L63.05 908.2L63.8 908.2L64.55 908.2L65.3 908.2L66.05 908.2L66.8 908.2L67.55 908.2L68.3 908.2L69.05 908.2L69.8 908.2L70.55 908.2L71.3 908.2L72.05 908.2L72.8 908.2L73.55 908.2L74.3 908.2L75.05 908.2L75.8 908.2L76.55 908.2L77.3 908.2L78.05 908.2L78.8 908.2L79.55 908.2L80.3 908.2L81.05 908.2L81.8 908.2L82.55 908.2L83.3 908.2L84.05 908.2L84.8 908.2L85.55 908.2L86.3 908.19L87.05 908.19L87.8 908.19L88.55 908.18L89.3 908.18L90.05 908.17L90.8 908.15L91.55 908.14L92.3 908.11L93.05 908.08L93.8 908.04L94.55 907.99L95.3 907.92L96.05 907.84L96.8 907.73L97.55 907.59L98.3 907.41L99.05 907.19L99.8 906.92L100.55 906.58L101.3 906.17L102.05 905.67L102.8 905.07L103.55 904.35L104.3 903.5L105.05 902.5L105.8 901.33L106.55 899.97L107.3 898.4L108.05 896.61L108.8 894.59L109.55 892.31L110.3 889.78L111.05 886.97L111.8 883.9L112.55 880.57L113.3 876.98L114.05 873.16L114.8 869.12L115.55 864.9L116.3 860.54L117.05 856.08L117.8 851.56L118.55 847.06L119.3 842.62L120.05 838.32L120.8 834.22L121.55 830.39L122.3 826.89L123.05 823.78L123.8 821.12L124.55 818.97L125.3 817.35L126.05 816.3L126.8 815.84L127.55 815.98L128.3 816.71L129.05 818.03L129.8 819.91L130.55 822.31L131.3 825.18L132.05 828.48L132.8 832.14L133.55 836.11L134.3 840.31L135.05 844.68L135.8 849.16L136.55 853.67L137.3 858.17L138.05 862.59L138.8 866.89L139.55 871.03L140.3 874.97L141.05 878.69L141.8 882.16L142.55 885.37L143.3 888.31L144.05 890.99L144.8 893.4L145.55 895.56L146.3 897.47L147.05 899.16L147.8 900.62L148.55 901.9L149.3 902.99L150.05 903.92L150.8 904.7L151.55 905.37L152.3 905.92L153.05 906.37L153.8 906.75L154.55 907.05L155.3 907.3L156.05 907.5L156.8 907.66L157.55 907.78L158.3 907.88L159.05 907.96L159.8 908.02L160.55 908.06L161.3 908.1L162.05 908.12L162.8 908.14L163.55 908.16L164.3 908.17L165.05 908.18L165.8 908.18L166.55 908.19L167.3 908.19L168.05 908.19L168.8 908.2L169.55 908.2L170.3 908.2L171.05 908.2L171.8 908.2L172.55 908.2L173.3 908.2L174.05 908.2L174.8 908.2L175.55 908.2L176.3 908.2L177.05 908.2L177.8 908.2L178.55 908.2L179.3 908.2L180.05 908.2L180.8 908.2L181.55 908.2L182.3 908.2L183.05 908.2L183.8 908.2L184.55 908.2L185.3 908.2L186.05 908.2L186.8 908.2L187.55 908.2L188.3 908.2L189.05 908.2L189.8 908.2L190.55 908.2L191.3 908.2L192.05 908.2L192.8 908.2L193.55 908.2L194.3 908.2L195.05 908.2L195.8 908.2L196.55 908.2L197.3 908.2L198.05 908.2L198.8 908.2L199.55 908.2L200.3 908.2L201.05 908.2L201.8 908.2L202.55 908.2L203.3 908.2L204.05 908.2L204.8 908.2L205.55 908.2L206.3 908.2L207.05 908.2L207.8 908.2L208.55 908.2L209.3 908.2L210.05 908.2L210.8 908.2L211.55 908.2L212.3 908.2L213.05 908.2L213.8 908.2L214.55 908.2L215.3 908.2L216.05 908.2L216.8 908.2L217.55 908.2L218.3 908.2L219.05 908.2L219.8 908.2L220.55 908.2L221.3 908.2L222.05 908.2" fill="none" stroke="#111" stroke-width="1.12" clip-path="url(#c13)"/>
<rect x="36.8" y="779.4" width="185.5" height="137.4" fill="none" stroke="#222" stroke-width="1.1"/>
<path d="M45.72 916.8v-2.5M45.72 779.4v2.5M56.06 916.8v-2.5M56.06 779.4v2.5M66.41 916.8v-2.5M66.41 779.4v2.5M76.75 916.8v-2.5M76.75 779.4v2.5M87.1 916.8v-4.8M87.1 779.4v4.8M97.44 916.8v-2.5M97.44 779.4v2.5M107.79 916.8v-2.5M107.79 779.4v2.5M118.13 916.8v-2.5M118.13 779.4v2.5M128.48 916.8v-2.5M128.48 779.4v2.5M138.82 916.8v-4.8M138.82 779.4v4.8M149.17 916.8v-2.5M149.17 779.4v2.5M159.51 916.8v-2.5M159.51 779.4v2.5M169.86 916.8v-2.5M169.86 779.4v2.5M180.2 916.8v-2.5M180.2 779.4v2.5M190.55 916.8v-4.8M190.55 779.4v4.8M200.89 916.8v-2.5M200.89 779.4v2.5M211.24 916.8v-2.5M211.24 779.4v2.5M36.8 908.2h4.8M222.3 908.2h-4.8M36.8 899.59h2.5M222.3 899.59h-2.5M36.8 890.98h2.5M222.3 890.98h-2.5M36.8 882.37h2.5M222.3 882.37h-2.5M36.8 873.76h2.5M222.3 873.76h-2.5M36.8 865.15h4.8M222.3 865.15h-4.8M36.8 856.54h2.5M222.3 856.54h-2.5M36.8 847.93h2.5M222.3 847.93h-2.5M36.8 839.32h2.5M222.3 839.32h-2.5M36.8 830.71h2.5M222.3 830.71h-2.5M36.8 822.1h4.8M222.3 822.1h-4.8M36.8 813.49h2.5M222.3 813.49h-2.5M36.8 804.88h2.5M222.3 804.88h-2.5M36.8 796.27h2.5M222.3 796.27h-2.5M36.8 787.66h2.5M222.3 787.66h-2.5" stroke="#222" stroke-width="0.9" fill="none"/>
<g class="r" transform="rotate(-90 30.9 908.2)"><text transform="rotate(0.03 27.81 908.2)" x="27.88" y="908.2" font-size="10.5">0</text></g>
<g class="r" transform="rotate(-90 30.9 865.15)"><text transform="rotate(0.03 27.81 865.15)" x="27.88" y="865.15" font-size="10.5">5</text></g>
<g class="r" transform="rotate(-90 30.9 822.1)"><text transform="rotate(0.03 24.82 822.1)" x="24.89 30.87" y="822.1" font-size="10.5">10</text></g>
<g class="r" transform="rotate(-90 30.9 779.05)"><text transform="rotate(0.03 24.82 779.05)" x="24.89 30.87" y="779.05" font-size="10.5">15</text></g>
<text transform="rotate(0.03 66.49 929.8)" x="66.76 72.63 75.79 81.76 87.67 93.84 99.82" y="929.8" font-size="9.78">1.25×10</text><text transform="rotate(0.03 66.49 929.8)" x="105.72" y="925.06" font-size="6.85" style="stroke-width:0.18px">4</text>
<text transform="rotate(0.03 121.2 929.8)" x="121.47 127.35 130.5 136.4 142.58 148.56" y="929.8" font-size="9.78">1.3×10</text><text transform="rotate(0.03 121.2 929.8)" x="154.45" y="925.06" font-size="6.85" style="stroke-width:0.18px">4</text>
<text transform="rotate(0.03 169.94 929.8)" x="170.21 176.08 179.24 185.21 191.12 197.29 203.27" y="929.8" font-size="9.78">1.35×10</text><text transform="rotate(0.03 169.94 929.8)" x="209.17" y="925.06" font-size="6.85" style="stroke-width:0.18px">4</text>
<text transform="rotate(0.03 99.97 941.5)" x="99.97" y="941.5" font-size="9.78">v</text><text transform="rotate(0.03 99.97 941.5)" x="104.99 109.28 113.78" y="945.47" font-size="7.24" style="stroke-width:0.18px">opt</text><text transform="rotate(0.03 99.97 941.5)" x="117.22 121.53 125.43 130.98 140.71 144.65" y="941.5" font-size="9.78"> (km s</text><text transform="rotate(0.03 99.97 941.5)" x="150.79 156.07" y="936.76" font-size="6.85" style="stroke-width:0.18px">−1</text><text transform="rotate(0.03 99.97 941.5)" x="160.57" y="941.5" font-size="9.78">)</text>
<g class="r" transform="rotate(-90 11.4 846.8)"><text transform="rotate(0.03 -35.42 846.8) scale(0.86 1)" x="-41.2" y="846.8" font-size="10.6">F</text><text transform="rotate(0.03 -35.42 846.8)" x="-29.82 -27.43 -21.59 -15.33 -11 -6.88" y="846.8" font-size="10.6">lux (m</text><text transform="rotate(0.03 -35.42 846.8) scale(0.86 1)" x="2.72" y="846.8" font-size="10.6">J</text><text transform="rotate(0.03 -35.42 846.8)" x="6.9 13 16.92 22.62 28.31 34.39" y="846.8" font-size="10.6">y beam</text><text transform="rotate(0.03 -35.42 846.8)" x="44.39 49.73" y="842.01" font-size="7.42" style="stroke-width:0.18px">−1</text><text transform="rotate(0.03 -35.42 846.8)" x="54.3" y="846.8" font-size="10.6">)</text></g>
<text transform="rotate(0.03 53.25 794.5) scale(0.86 1)" x="62 65.3 73.24 80.68" y="794.5" font-size="10.72">IRAS</text><text transform="rotate(0.03 53.25 794.5)" x="77.04 81.54 88.15 94.76 101.36 107.97 116 124.34 130.95 137.55 144.16 151.65 156.41 160.74 167.53 175.37 181.84 185.34 191.95 198.55 205.41" y="794.5" font-size="10.72"> 20551−4250 (z=0.043)</text>
<text transform="rotate(0.03 150.7 808.7) scale(0.86 1)" x="175.67 184.1 192.22" y="808.7" font-size="10.72">HCO</text><text transform="rotate(0.03 150.7 808.7)" x="173.48" y="803.46" font-size="7.51" style="stroke-width:0.18px">+</text><text transform="rotate(0.03 150.7 808.7)" x="179.94 184.45 192.49 200.83" y="808.7" font-size="10.72"> 1−0</text></g>
<g><clipPath id="c14"><rect x="288.7" y="779.4" width="185.5" height="137.4"/></clipPath>
<line x1="288.7" y1="902.4" x2="474.2" y2="902.4" stroke="#aaa" stroke-width="0.8" stroke-dasharray="1.8 2.1"/>
<path d="M288.62 905.58H292.54V906.89H295.95V907.68H299.09V891.18H303.02V905.58H306.94V910.82H310.08V899.04H313.49V901.65H317.41V893.8H321.34V901.13H325.27V902.44H328.41V916.05H332.34V899.56H335.74V904.27H339.14V895.9H343.07V902.44H346.99V902.96H350.92V902.44H354.06V909.51H357.99V903.75H361.39V895.11H364.53V865.01H368.46V846.16H372.39V815.79H376.31V828.36H379.46V819.19H383.38V836.73H386.79V876.79H390.19V896.42H393.85V888.04H397.78V895.11H401.18V901.65H404.32V914.74H408.25V904.27H411.65V896.94H415.58V904.27H419.51V882.02H423.43V895.9H427.36V898.51H430.76V879.4H434.69V913.96H438.62V899.04H442.54V901.65H446.21V901.13H449.61V904.8H453.54V899.56H457.47V901.65H460.87V898.51H464.01V891.18H467.94V892.49H471.08V902.96H473.96" fill="none" stroke="#000" stroke-width="1.0" stroke-linejoin="miter" clip-path="url(#c14)"/>
<path d="M288.7 902.4L289.45 902.4L290.2 902.4L290.95 902.4L291.7 902.4L292.45 902.4L293.2 902.4L293.95 902.4L294.7 902.4L295.45 902.4L296.2 902.4L296.95 902.4L297.7 902.4L298.45 902.4L299.2 902.4L299.95 902.4L300.7 902.4L301.45 902.4L302.2 902.4L302.95 902.4L303.7 902.4L304.45 902.4L305.2 902.4L305.95 902.4L306.7 902.4L307.45 902.4L308.2 902.4L308.95 902.4L309.7 902.4L310.45 902.4L311.2 902.4L311.95 902.4L312.7 902.4L313.45 902.4L314.2 902.4L314.95 902.4L315.7 902.4L316.45 902.4L317.2 902.4L317.95 902.4L318.7 902.4L319.45 902.4L320.2 902.4L320.95 902.4L321.7 902.4L322.45 902.4L323.2 902.4L323.95 902.4L324.7 902.4L325.45 902.4L326.2 902.4L326.95 902.4L327.7 902.4L328.45 902.4L329.2 902.4L329.95 902.4L330.7 902.4L331.45 902.4L332.2 902.4L332.95 902.4L333.7 902.4L334.45 902.4L335.2 902.4L335.95 902.4L336.7 902.4L337.45 902.4L338.2 902.4L338.95 902.4L339.7 902.4L340.45 902.4L341.2 902.4L341.95 902.4L342.7 902.39L343.45 902.39L344.2 902.39L344.95 902.38L345.7 902.37L346.45 902.36L347.2 902.35L347.95 902.32L348.7 902.29L349.45 902.25L350.2 902.18L350.95 902.1L351.7 901.99L352.45 901.84L353.2 901.65L353.95 901.4L354.7 901.07L355.45 900.66L356.2 900.14L356.95 899.49L357.7 898.69L358.45 897.71L359.2 896.52L359.95 895.1L360.7 893.42L361.45 891.44L362.2 889.15L362.95 886.53L363.7 883.56L364.45 880.24L365.2 876.56L365.95 872.55L366.7 868.21L367.45 863.6L368.2 858.77L368.95 853.77L369.7 848.69L370.45 843.6L371.2 838.61L371.95 833.82L372.7 829.34L373.45 825.25L374.2 821.67L374.95 818.68L375.7 816.36L376.45 814.77L377.2 813.95L377.95 813.93L378.7 814.69L379.45 816.24L380.2 818.51L380.95 821.45L381.7 825L382.45 829.05L383.2 833.51L383.95 838.29L384.7 843.27L385.45 848.35L386.2 853.43L386.95 858.44L387.7 863.29L388.45 867.91L389.2 872.27L389.95 876.31L390.7 880.01L391.45 883.35L392.2 886.35L392.95 888.99L393.7 891.3L394.45 893.29L395.2 895L395.95 896.43L396.7 897.64L397.45 898.63L398.2 899.44L398.95 900.1L399.7 900.63L400.45 901.05L401.2 901.38L401.95 901.63L402.7 901.83L403.45 901.98L404.2 902.09L404.95 902.18L405.7 902.24L406.45 902.29L407.2 902.32L407.95 902.34L408.7 902.36L409.45 902.37L410.2 902.38L410.95 902.39L411.7 902.39L412.45 902.39L413.2 902.4L413.95 902.4L414.7 902.4L415.45 902.4L416.2 902.4L416.95 902.4L417.7 902.4L418.45 902.4L419.2 902.4L419.95 902.4L420.7 902.4L421.45 902.4L422.2 902.4L422.95 902.4L423.7 902.4L424.45 902.4L425.2 902.4L425.95 902.4L426.7 902.4L427.45 902.4L428.2 902.4L428.95 902.4L429.7 902.4L430.45 902.4L431.2 902.4L431.95 902.4L432.7 902.4L433.45 902.4L434.2 902.4L434.95 902.4L435.7 902.4L436.45 902.4L437.2 902.4L437.95 902.4L438.7 902.4L439.45 902.4L440.2 902.4L440.95 902.4L441.7 902.4L442.45 902.4L443.2 902.4L443.95 902.4L444.7 902.4L445.45 902.4L446.2 902.4L446.95 902.4L447.7 902.4L448.45 902.4L449.2 902.4L449.95 902.4L450.7 902.4L451.45 902.4L452.2 902.4L452.95 902.4L453.7 902.4L454.45 902.4L455.2 902.4L455.95 902.4L456.7 902.4L457.45 902.4L458.2 902.4L458.95 902.4L459.7 902.4L460.45 902.4L461.2 902.4L461.95 902.4L462.7 902.4L463.45 902.4L464.2 902.4L464.95 902.4L465.7 902.4L466.45 902.4L467.2 902.4L467.95 902.4L468.7 902.4L469.45 902.4L470.2 902.4L470.95 902.4L471.7 902.4L472.45 902.4L473.2 902.4L473.95 902.4" fill="none" stroke="#111" stroke-width="1.12" clip-path="url(#c14)"/>
<rect x="288.7" y="779.4" width="185.5" height="137.4" fill="none" stroke="#222" stroke-width="1.1"/>
<path d="M297.62 916.8v-2.5M297.62 779.4v2.5M307.96 916.8v-2.5M307.96 779.4v2.5M318.31 916.8v-2.5M318.31 779.4v2.5M328.65 916.8v-2.5M328.65 779.4v2.5M339 916.8v-4.8M339 779.4v4.8M349.35 916.8v-2.5M349.35 779.4v2.5M359.69 916.8v-2.5M359.69 779.4v2.5M370.04 916.8v-2.5M370.04 779.4v2.5M380.38 916.8v-2.5M380.38 779.4v2.5M390.73 916.8v-4.8M390.73 779.4v4.8M401.07 916.8v-2.5M401.07 779.4v2.5M411.42 916.8v-2.5M411.42 779.4v2.5M421.76 916.8v-2.5M421.76 779.4v2.5M432.11 916.8v-2.5M432.11 779.4v2.5M442.45 916.8v-4.8M442.45 779.4v4.8M452.8 916.8v-2.5M452.8 779.4v2.5M463.14 916.8v-2.5M463.14 779.4v2.5M288.7 910.6h2.5M474.2 910.6h-2.5M288.7 902.4h4.8M474.2 902.4h-4.8M288.7 894.2h2.5M474.2 894.2h-2.5M288.7 886h2.5M474.2 886h-2.5M288.7 877.8h2.5M474.2 877.8h-2.5M288.7 869.6h2.5M474.2 869.6h-2.5M288.7 861.4h4.8M474.2 861.4h-4.8M288.7 853.2h2.5M474.2 853.2h-2.5M288.7 845h2.5M474.2 845h-2.5M288.7 836.8h2.5M474.2 836.8h-2.5M288.7 828.6h2.5M474.2 828.6h-2.5M288.7 820.4h4.8M474.2 820.4h-4.8M288.7 812.2h2.5M474.2 812.2h-2.5M288.7 804h2.5M474.2 804h-2.5M288.7 795.8h2.5M474.2 795.8h-2.5M288.7 787.6h2.5M474.2 787.6h-2.5" stroke="#222" stroke-width="0.9" fill="none"/>
<g class="r" transform="rotate(-90 282.8 902.4)"><text transform="rotate(0.03 279.71 902.4)" x="279.78" y="902.4" font-size="10.5">0</text></g>
<g class="r" transform="rotate(-90 282.8 861.4)"><text transform="rotate(0.03 279.71 861.4)" x="279.78" y="861.4" font-size="10.5">1</text></g>
<g class="r" transform="rotate(-90 282.8 820.4)"><text transform="rotate(0.03 279.71 820.4)" x="279.78" y="820.4" font-size="10.5">2</text></g>
<g class="r" transform="rotate(-90 282.8 779.4)"><text transform="rotate(0.03 279.71 779.4)" x="279.78" y="779.4" font-size="10.5">3</text></g>
<text transform="rotate(0.03 318.39 929.8)" x="318.66 324.53 327.69 333.66 339.57 345.74 351.72" y="929.8" font-size="9.78">1.25×10</text><text transform="rotate(0.03 318.39 929.8)" x="357.62" y="925.06" font-size="6.85" style="stroke-width:0.18px">4</text>
<text transform="rotate(0.03 373.1 929.8)" x="373.37 379.25 382.4 388.3 394.48 400.46" y="929.8" font-size="9.78">1.3×10</text><text transform="rotate(0.03 373.1 929.8)" x="406.35" y="925.06" font-size="6.85" style="stroke-width:0.18px">4</text>
<text transform="rotate(0.03 421.84 929.8)" x="422.11 427.98 431.14 437.11 443.02 449.19 455.17" y="929.8" font-size="9.78">1.35×10</text><text transform="rotate(0.03 421.84 929.8)" x="461.07" y="925.06" font-size="6.85" style="stroke-width:0.18px">4</text>
<text transform="rotate(0.03 351.87 941.5)" x="351.87" y="941.5" font-size="9.78">v</text><text transform="rotate(0.03 351.87 941.5)" x="356.89 361.18 365.68" y="945.47" font-size="7.24" style="stroke-width:0.18px">opt</text><text transform="rotate(0.03 351.87 941.5)" x="369.12 373.43 377.33 382.88 392.61 396.55" y="941.5" font-size="9.78"> (km s</text><text transform="rotate(0.03 351.87 941.5)" x="402.69 407.97" y="936.76" font-size="6.85" style="stroke-width:0.18px">−1</text><text transform="rotate(0.03 351.87 941.5)" x="412.47" y="941.5" font-size="9.78">)</text>
<g class="r" transform="rotate(-90 263.3 846.8)"><text transform="rotate(0.03 216.48 846.8) scale(0.86 1)" x="251.71" y="846.8" font-size="10.6">F</text><text transform="rotate(0.03 216.48 846.8)" x="222.08 224.47 230.31 236.57 240.9 245.02" y="846.8" font-size="10.6">lux (m</text><text transform="rotate(0.03 216.48 846.8) scale(0.86 1)" x="295.63" y="846.8" font-size="10.6">J</text><text transform="rotate(0.03 216.48 846.8)" x="258.8 264.9 268.82 274.52 280.21 286.29" y="846.8" font-size="10.6">y beam</text><text transform="rotate(0.03 216.48 846.8)" x="296.29 301.63" y="842.01" font-size="7.42" style="stroke-width:0.18px">−1</text><text transform="rotate(0.03 216.48 846.8)" x="306.2" y="846.8" font-size="10.6">)</text></g>
<text transform="rotate(0.03 304.85 792.7) scale(0.86 1)" x="354.56 357.86 365.79 373.24" y="792.7" font-size="10.72">IRAS</text><text transform="rotate(0.03 304.85 792.7)" x="328.64 333.14 339.75 346.36 352.96 359.57 367.6 375.94 382.55 389.15 395.76 403.25 408.01 412.34 419.13 426.97 433.44 436.94 443.55 450.15 457.01" y="792.7" font-size="10.72"> 20551−4250 (z=0.043)</text>
<text transform="rotate(0.03 405.4 806.9) scale(0.86 1)" x="471.83 480.46 488.88" y="806.9" font-size="10.72">HNC</text><text transform="rotate(0.03 405.4 806.9)" x="428.51 433.02 441.06 449.4" y="806.9" font-size="10.72"> 1−0</text></g>
<g><clipPath id="c15"><rect x="540.2" y="779.4" width="185.5" height="137.4"/></clipPath>
<line x1="540.2" y1="904.3" x2="725.7" y2="904.3" stroke="#aaa" stroke-width="0.8" stroke-dasharray="1.8 2.1"/>
<path d="M539.93 900.35H542.54V896.42H545.16V892.49H547.78V899.04H550.4V904.8H553.02V902.96H555.63V897.73H558.25V896.42H560.87V893.8H563.49V888.57H566.1V897.73H568.72V899.04H571.34V901.65H573.96V892.49H576.58V902.96H579.19V900.35H581.81V893.28H584.43V910.82H587.05V899.04H589.66V901.65H592.28V900.35H594.9V902.96H597.52V899.04H600.14V901.13H602.75V893.8H605.37V901.65H607.99V900.35H610.61V884.12H613.23V910.82H615.84V887.26H618.46V889.87H621.08V867.62H623.7V855.84H626.31V851.92H628.93V845.37H631.55V850.61H634.17V839.61H636.79V857.15H639.4V872.86H642.02V895.11H644.64V883.33H647.26V891.18H649.87V905.58H652.49V884.64H655.11V901.13H657.73V904.27H660.35V902.96H662.96V905.58H665.58V906.89H668.2V901.65H670.82V889.87H673.43V899.04H676.05V909.51H678.67V897.73H681.29V902.96H683.91V912.13H686.52V906.89H689.14V897.73H691.76V900.35H694.38V909.51H696.99V904.8H699.61V885.95H702.23V904.27H704.85V905.58H707.47V904.27H710.08V896.42H712.7V872.86H715.32V858.46H717.94V845.37H720.55V836.21H723.17V827.05H727.1" fill="none" stroke="#000" stroke-width="1.0" stroke-linejoin="miter" clip-path="url(#c15)"/>
<path d="M540.2 904.3L540.95 904.3L541.7 904.3L542.45 904.3L543.2 904.3L543.95 904.3L544.7 904.3L545.45 904.3L546.2 904.3L546.95 904.3L547.7 904.3L548.45 904.3L549.2 904.3L549.95 904.3L550.7 904.3L551.45 904.3L552.2 904.3L552.95 904.3L553.7 904.3L554.45 904.3L555.2 904.3L555.95 904.3L556.7 904.3L557.45 904.3L558.2 904.3L558.95 904.3L559.7 904.3L560.45 904.3L561.2 904.3L561.95 904.3L562.7 904.3L563.45 904.3L564.2 904.3L564.95 904.3L565.7 904.3L566.45 904.3L567.2 904.3L567.95 904.3L568.7 904.3L569.45 904.3L570.2 904.3L570.95 904.3L571.7 904.3L572.45 904.3L573.2 904.3L573.95 904.3L574.7 904.3L575.45 904.3L576.2 904.3L576.95 904.3L577.7 904.3L578.45 904.3L579.2 904.3L579.95 904.3L580.7 904.3L581.45 904.3L582.2 904.3L582.95 904.3L583.7 904.3L584.45 904.3L585.2 904.3L585.95 904.3L586.7 904.3L587.45 904.3L588.2 904.3L588.95 904.3L589.7 904.3L590.45 904.3L591.2 904.3L591.95 904.3L592.7 904.3L593.45 904.3L594.2 904.3L594.95 904.3L595.7 904.3L596.45 904.29L597.2 904.29L597.95 904.29L598.7 904.28L599.45 904.27L600.2 904.26L600.95 904.25L601.7 904.23L602.45 904.2L603.2 904.16L603.95 904.11L604.7 904.04L605.45 903.95L606.2 903.84L606.95 903.7L607.7 903.51L608.45 903.28L609.2 902.99L609.95 902.63L610.7 902.19L611.45 901.65L612.2 901L612.95 900.23L613.7 899.31L614.45 898.24L615.2 897L615.95 895.57L616.7 893.94L617.45 892.11L618.2 890.06L618.95 887.81L619.7 885.35L620.45 882.7L621.2 879.87L621.95 876.89L622.7 873.79L623.45 870.61L624.2 867.4L624.95 864.2L625.7 861.07L626.45 858.06L627.2 855.24L627.95 852.66L628.7 850.37L629.45 848.43L630.2 846.88L630.95 845.76L631.7 845.08L632.45 844.88L633.2 845.15L633.95 845.88L634.7 847.06L635.45 848.67L636.2 850.66L636.95 852.99L637.7 855.6L638.45 858.45L639.2 861.48L639.95 864.62L640.7 867.83L641.45 871.04L642.2 874.21L642.95 877.3L643.7 880.26L644.45 883.06L645.2 885.69L645.95 888.12L646.7 890.35L647.45 892.36L648.2 894.17L648.95 895.77L649.7 897.17L650.45 898.39L651.2 899.44L651.95 900.34L652.7 901.1L653.45 901.73L654.2 902.25L654.95 902.68L655.7 903.03L656.45 903.31L657.2 903.54L657.95 903.72L658.7 903.86L659.45 903.97L660.2 904.05L660.95 904.12L661.7 904.16L662.45 904.2L663.2 904.23L663.95 904.25L664.7 904.26L665.45 904.27L666.2 904.28L666.95 904.29L667.7 904.29L668.45 904.29L669.2 904.3L669.95 904.3L670.7 904.3L671.45 904.3L672.2 904.3L672.95 904.3L673.7 904.3L674.45 904.3L675.2 904.3L675.95 904.3L676.7 904.3L677.45 904.3L678.2 904.3L678.95 904.3L679.7 904.3L680.45 904.3L681.2 904.3L681.95 904.3L682.7 904.3L683.45 904.3L684.2 904.3L684.95 904.3L685.7 904.3L686.45 904.3L687.2 904.3L687.95 904.3L688.7 904.3L689.45 904.3L690.2 904.3L690.95 904.3L691.7 904.3L692.45 904.3L693.2 904.3L693.95 904.3L694.7 904.3L695.45 904.3L696.2 904.3L696.95 904.3L697.7 904.3L698.45 904.3L699.2 904.3L699.95 904.3L700.7 904.3L701.45 904.3L702.2 904.3L702.95 904.3L703.7 904.3L704.45 904.3L705.2 904.3L705.95 904.3L706.7 904.3L707.45 904.3L708.2 904.3L708.95 904.3L709.7 904.3L710.45 904.3L711.2 904.3L711.95 904.3L712.7 904.3L713.45 904.3L714.2 904.3L714.95 904.3L715.7 904.3L716.45 904.3L717.2 904.3L717.95 904.3L718.7 904.3L719.45 904.3L720.2 904.3L720.95 904.3L721.7 904.3L722.45 904.3L723.2 904.3L723.95 904.3L724.7 904.3L725.45 904.3" fill="none" stroke="#111" stroke-width="1.12" clip-path="url(#c15)"/>
<rect x="540.2" y="779.4" width="185.5" height="137.4" fill="none" stroke="#222" stroke-width="1.1"/>
<path d="M549.12 916.8v-2.5M549.12 779.4v2.5M559.47 916.8v-2.5M559.47 779.4v2.5M569.81 916.8v-2.5M569.81 779.4v2.5M580.15 916.8v-2.5M580.15 779.4v2.5M590.5 916.8v-4.8M590.5 779.4v4.8M600.85 916.8v-2.5M600.85 779.4v2.5M611.19 916.8v-2.5M611.19 779.4v2.5M621.53 916.8v-2.5M621.53 779.4v2.5M631.88 916.8v-2.5M631.88 779.4v2.5M642.23 916.8v-4.8M642.23 779.4v4.8M652.57 916.8v-2.5M652.57 779.4v2.5M662.91 916.8v-2.5M662.91 779.4v2.5M673.26 916.8v-2.5M673.26 779.4v2.5M683.61 916.8v-2.5M683.61 779.4v2.5M693.95 916.8v-4.8M693.95 779.4v4.8M704.29 916.8v-2.5M704.29 779.4v2.5M714.64 916.8v-2.5M714.64 779.4v2.5M540.2 912.64h2.5M725.7 912.64h-2.5M540.2 904.3h4.8M725.7 904.3h-4.8M540.2 895.96h2.5M725.7 895.96h-2.5M540.2 887.62h2.5M725.7 887.62h-2.5M540.2 879.28h2.5M725.7 879.28h-2.5M540.2 870.94h2.5M725.7 870.94h-2.5M540.2 862.6h4.8M725.7 862.6h-4.8M540.2 854.26h2.5M725.7 854.26h-2.5M540.2 845.92h2.5M725.7 845.92h-2.5M540.2 837.58h2.5M725.7 837.58h-2.5M540.2 829.24h2.5M725.7 829.24h-2.5M540.2 820.9h4.8M725.7 820.9h-4.8M540.2 812.56h2.5M725.7 812.56h-2.5M540.2 804.22h2.5M725.7 804.22h-2.5M540.2 795.88h2.5M725.7 795.88h-2.5M540.2 787.54h2.5M725.7 787.54h-2.5" stroke="#222" stroke-width="0.9" fill="none"/>
<g class="r" transform="rotate(-90 534.3 904.3)"><text transform="rotate(0.03 531.21 904.3)" x="531.28" y="904.3" font-size="10.5">0</text></g>
<g class="r" transform="rotate(-90 534.3 862.6)"><text transform="rotate(0.03 531.21 862.6)" x="531.28" y="862.6" font-size="10.5">1</text></g>
<g class="r" transform="rotate(-90 534.3 820.9)"><text transform="rotate(0.03 531.21 820.9)" x="531.28" y="820.9" font-size="10.5">2</text></g>
<g class="r" transform="rotate(-90 534.3 779.2)"><text transform="rotate(0.03 531.21 779.2)" x="531.28" y="779.2" font-size="10.5">3</text></g>
<text transform="rotate(0.03 569.89 929.8)" x="570.16 576.03 579.19 585.16 591.07 597.24 603.22" y="929.8" font-size="9.78">1.25×10</text><text transform="rotate(0.03 569.89 929.8)" x="609.12" y="925.06" font-size="6.85" style="stroke-width:0.18px">4</text>
<text transform="rotate(0.03 624.6 929.8)" x="624.87 630.75 633.9 639.8 645.98 651.96" y="929.8" font-size="9.78">1.3×10</text><text transform="rotate(0.03 624.6 929.8)" x="657.85" y="925.06" font-size="6.85" style="stroke-width:0.18px">4</text>
<text transform="rotate(0.03 673.34 929.8)" x="673.61 679.48 682.64 688.61 694.52 700.69 706.67" y="929.8" font-size="9.78">1.35×10</text><text transform="rotate(0.03 673.34 929.8)" x="712.57" y="925.06" font-size="6.85" style="stroke-width:0.18px">4</text>
<text transform="rotate(0.03 603.37 941.5)" x="603.37" y="941.5" font-size="9.78">v</text><text transform="rotate(0.03 603.37 941.5)" x="608.39 612.68 617.18" y="945.47" font-size="7.24" style="stroke-width:0.18px">opt</text><text transform="rotate(0.03 603.37 941.5)" x="620.62 624.93 628.83 634.38 644.11 648.05" y="941.5" font-size="9.78"> (km s</text><text transform="rotate(0.03 603.37 941.5)" x="654.19 659.47" y="936.76" font-size="6.85" style="stroke-width:0.18px">−1</text><text transform="rotate(0.03 603.37 941.5)" x="663.97" y="941.5" font-size="9.78">)</text>
<g class="r" transform="rotate(-90 514.8 846.8)"><text transform="rotate(0.03 467.98 846.8) scale(0.86 1)" x="544.15" y="846.8" font-size="10.6">F</text><text transform="rotate(0.03 467.98 846.8)" x="473.58 475.97 481.81 488.07 492.4 496.52" y="846.8" font-size="10.6">lux (m</text><text transform="rotate(0.03 467.98 846.8) scale(0.86 1)" x="588.07" y="846.8" font-size="10.6">J</text><text transform="rotate(0.03 467.98 846.8)" x="510.3 516.4 520.32 526.02 531.71 537.79" y="846.8" font-size="10.6">y beam</text><text transform="rotate(0.03 467.98 846.8)" x="547.79 553.13" y="842.01" font-size="7.42" style="stroke-width:0.18px">−1</text><text transform="rotate(0.03 467.98 846.8)" x="557.7" y="846.8" font-size="10.6">)</text></g>
<text transform="rotate(0.03 556.25 793) scale(0.86 1)" x="646.88 650.18 658.12 665.56" y="793" font-size="10.72">IRAS</text><text transform="rotate(0.03 556.25 793)" x="580.04 584.54 591.15 597.76 604.36 610.97 619 627.34 633.95 640.55 647.16 654.65 659.41 663.74 670.53 678.37 684.84 688.34 694.95 701.55 708.41" y="793" font-size="10.72"> 20551−4250 (z=0.043)</text>
<text transform="rotate(0.03 654.1 811.9) scale(0.86 1)" x="761.02" y="811.9" font-size="10.72">H</text><text transform="rotate(0.03 654.1 811.9)" x="661.74 666.36" y="806.66" font-size="7.51" style="stroke-width:0.18px">13</text><text transform="rotate(0.03 654.1 811.9) scale(0.86 1)" x="780.2 788.62" y="811.9" font-size="10.72">CN</text><text transform="rotate(0.03 654.1 811.9)" x="686.46 690.97 699 707.34" y="811.9" font-size="10.72"> 3−2</text></g>
</svg>
</body></html>
